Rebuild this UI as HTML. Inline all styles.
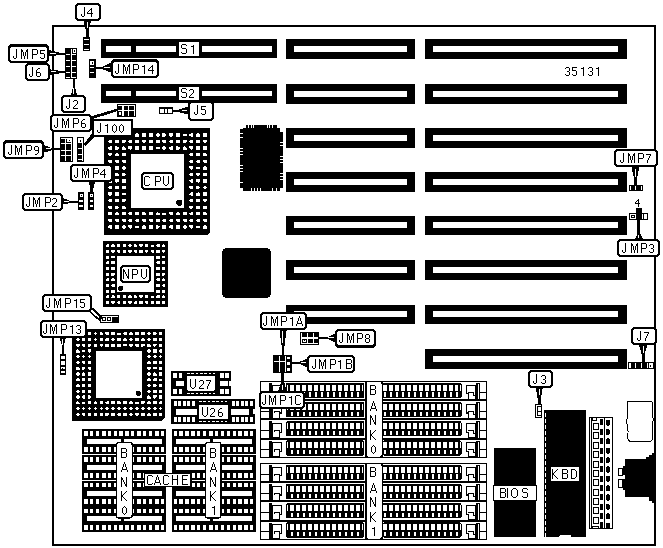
<!DOCTYPE html>
<html><head><meta charset="utf-8"><title>Motherboard diagram</title>
<style>
html,body{margin:0;padding:0;background:#fff;font-family:"Liberation Sans",sans-serif;}
svg{display:block;}
</style></head>
<body>
<svg width="663" height="548" viewBox="0 0 663 548" shape-rendering="crispEdges">
<defs>
<path id="g74" d="M3 0h1v1h-1zM3 1h1v1h-1zM3 2h1v1h-1zM3 3h1v1h-1zM3 4h1v1h-1zM3 5h1v1h-1zM3 6h1v1h-1zM0 7h1v1h-1zM3 7h1v1h-1zM0 8h1v1h-1zM3 8h1v1h-1zM1 9h2v1h-2z"/>
<path id="g77" d="M0 0h1v1h-1zM6 0h1v1h-1zM0 1h2v1h-2zM5 1h2v1h-2zM0 2h2v1h-2zM5 2h2v1h-2zM0 3h1v1h-1zM2 3h1v1h-1zM4 3h1v1h-1zM6 3h1v1h-1zM0 4h1v1h-1zM2 4h1v1h-1zM4 4h1v1h-1zM6 4h1v1h-1zM0 5h1v1h-1zM2 5h1v1h-1zM4 5h1v1h-1zM6 5h1v1h-1zM0 6h1v1h-1zM2 6h1v1h-1zM4 6h1v1h-1zM6 6h1v1h-1zM0 7h1v1h-1zM3 7h1v1h-1zM6 7h1v1h-1zM0 8h1v1h-1zM3 8h1v1h-1zM6 8h1v1h-1zM0 9h1v1h-1zM3 9h1v1h-1zM6 9h1v1h-1z"/>
<path id="g80" d="M0 0h5v1h-5zM0 1h1v1h-1zM5 1h1v1h-1zM0 2h1v1h-1zM5 2h1v1h-1zM0 3h1v1h-1zM5 3h1v1h-1zM0 4h1v1h-1zM5 4h1v1h-1zM0 5h5v1h-5zM0 6h1v1h-1zM0 7h1v1h-1zM0 8h1v1h-1zM0 9h1v1h-1z"/>
<path id="g65" d="M3 0h1v1h-1zM3 1h1v1h-1zM2 2h1v1h-1zM4 2h1v1h-1zM2 3h1v1h-1zM4 3h1v1h-1zM2 4h1v1h-1zM4 4h1v1h-1zM1 5h1v1h-1zM5 5h1v1h-1zM1 6h1v1h-1zM5 6h1v1h-1zM1 7h5v1h-5zM0 8h1v1h-1zM6 8h1v1h-1zM0 9h1v1h-1zM6 9h1v1h-1z"/>
<path id="g66" d="M0 0h5v1h-5zM0 1h1v1h-1zM5 1h1v1h-1zM0 2h1v1h-1zM5 2h1v1h-1zM0 3h1v1h-1zM5 3h1v1h-1zM0 4h5v1h-5zM0 5h1v1h-1zM5 5h1v1h-1zM0 6h1v1h-1zM5 6h1v1h-1zM0 7h1v1h-1zM5 7h1v1h-1zM0 8h1v1h-1zM5 8h1v1h-1zM0 9h5v1h-5z"/>
<path id="g67" d="M1 0h4v1h-4zM0 1h1v1h-1zM5 1h1v1h-1zM0 2h1v1h-1zM0 3h1v1h-1zM0 4h1v1h-1zM0 5h1v1h-1zM0 6h1v1h-1zM0 7h1v1h-1zM0 8h1v1h-1zM5 8h1v1h-1zM1 9h4v1h-4z"/>
<path id="g68" d="M0 0h4v1h-4zM0 1h1v1h-1zM4 1h1v1h-1zM0 2h1v1h-1zM5 2h1v1h-1zM0 3h1v1h-1zM5 3h1v1h-1zM0 4h1v1h-1zM5 4h1v1h-1zM0 5h1v1h-1zM5 5h1v1h-1zM0 6h1v1h-1zM5 6h1v1h-1zM0 7h1v1h-1zM5 7h1v1h-1zM0 8h1v1h-1zM4 8h1v1h-1zM0 9h4v1h-4z"/>
<path id="g69" d="M0 0h6v1h-6zM0 1h1v1h-1zM0 2h1v1h-1zM0 3h1v1h-1zM0 4h5v1h-5zM0 5h1v1h-1zM0 6h1v1h-1zM0 7h1v1h-1zM0 8h1v1h-1zM0 9h6v1h-6z"/>
<path id="g72" d="M0 0h1v1h-1zM5 0h1v1h-1zM0 1h1v1h-1zM5 1h1v1h-1zM0 2h1v1h-1zM5 2h1v1h-1zM0 3h1v1h-1zM5 3h1v1h-1zM0 4h6v1h-6zM0 5h1v1h-1zM5 5h1v1h-1zM0 6h1v1h-1zM5 6h1v1h-1zM0 7h1v1h-1zM5 7h1v1h-1zM0 8h1v1h-1zM5 8h1v1h-1zM0 9h1v1h-1zM5 9h1v1h-1z"/>
<path id="g73" d="M0 0h1v1h-1zM0 1h1v1h-1zM0 2h1v1h-1zM0 3h1v1h-1zM0 4h1v1h-1zM0 5h1v1h-1zM0 6h1v1h-1zM0 7h1v1h-1zM0 8h1v1h-1zM0 9h1v1h-1z"/>
<path id="g75" d="M0 0h1v1h-1zM5 0h1v1h-1zM0 1h1v1h-1zM4 1h1v1h-1zM0 2h1v1h-1zM3 2h1v1h-1zM0 3h1v1h-1zM2 3h1v1h-1zM0 4h2v1h-2zM0 5h2v1h-2zM0 6h1v1h-1zM2 6h1v1h-1zM0 7h1v1h-1zM3 7h1v1h-1zM0 8h1v1h-1zM4 8h1v1h-1zM0 9h1v1h-1zM5 9h1v1h-1z"/>
<path id="g78" d="M0 0h1v1h-1zM5 0h1v1h-1zM0 1h2v1h-2zM5 1h1v1h-1zM0 2h2v1h-2zM5 2h1v1h-1zM0 3h1v1h-1zM2 3h1v1h-1zM5 3h1v1h-1zM0 4h1v1h-1zM2 4h1v1h-1zM5 4h1v1h-1zM0 5h1v1h-1zM3 5h1v1h-1zM5 5h1v1h-1zM0 6h1v1h-1zM3 6h1v1h-1zM5 6h1v1h-1zM0 7h1v1h-1zM4 7h2v1h-2zM0 8h1v1h-1zM4 8h2v1h-2zM0 9h1v1h-1zM5 9h1v1h-1z"/>
<path id="g79" d="M2 0h3v1h-3zM1 1h1v1h-1zM5 1h1v1h-1zM0 2h1v1h-1zM6 2h1v1h-1zM0 3h1v1h-1zM6 3h1v1h-1zM0 4h1v1h-1zM6 4h1v1h-1zM0 5h1v1h-1zM6 5h1v1h-1zM0 6h1v1h-1zM6 6h1v1h-1zM0 7h1v1h-1zM6 7h1v1h-1zM1 8h1v1h-1zM5 8h1v1h-1zM2 9h3v1h-3z"/>
<path id="g83" d="M1 0h4v1h-4zM0 1h1v1h-1zM5 1h1v1h-1zM0 2h1v1h-1zM0 3h1v1h-1zM1 4h4v1h-4zM5 5h1v1h-1zM5 6h1v1h-1zM5 7h1v1h-1zM0 8h1v1h-1zM5 8h1v1h-1zM1 9h4v1h-4z"/>
<path id="g85" d="M0 0h1v1h-1zM5 0h1v1h-1zM0 1h1v1h-1zM5 1h1v1h-1zM0 2h1v1h-1zM5 2h1v1h-1zM0 3h1v1h-1zM5 3h1v1h-1zM0 4h1v1h-1zM5 4h1v1h-1zM0 5h1v1h-1zM5 5h1v1h-1zM0 6h1v1h-1zM5 6h1v1h-1zM0 7h1v1h-1zM5 7h1v1h-1zM1 8h1v1h-1zM4 8h1v1h-1zM2 9h2v1h-2z"/>
<path id="g48" d="M2 1h1v1h-1zM1 2h1v1h-1zM3 2h1v1h-1zM0 3h1v1h-1zM4 3h1v1h-1zM0 4h1v1h-1zM4 4h1v1h-1zM0 5h1v1h-1zM4 5h1v1h-1zM0 6h1v1h-1zM4 6h1v1h-1zM0 7h1v1h-1zM4 7h1v1h-1zM1 8h1v1h-1zM3 8h1v1h-1zM2 9h1v1h-1z"/>
<path id="g49" d="M2 1h1v1h-1zM0 2h3v1h-3zM2 3h1v1h-1zM2 4h1v1h-1zM2 5h1v1h-1zM2 6h1v1h-1zM2 7h1v1h-1zM2 8h1v1h-1zM2 9h1v1h-1z"/>
<path id="g50" d="M1 1h3v1h-3zM0 2h1v1h-1zM4 2h1v1h-1zM4 3h1v1h-1zM4 4h1v1h-1zM3 5h1v1h-1zM2 6h1v1h-1zM1 7h1v1h-1zM0 8h1v1h-1zM0 9h5v1h-5z"/>
<path id="g51" d="M1 1h3v1h-3zM0 2h1v1h-1zM4 2h1v1h-1zM4 3h1v1h-1zM4 4h1v1h-1zM2 5h2v1h-2zM4 6h1v1h-1zM4 7h1v1h-1zM0 8h1v1h-1zM4 8h1v1h-1zM1 9h3v1h-3z"/>
<path id="g52" d="M4 1h1v1h-1zM3 2h2v1h-2zM2 3h1v1h-1zM4 3h1v1h-1zM1 4h1v1h-1zM4 4h1v1h-1zM0 5h1v1h-1zM4 5h1v1h-1zM0 6h6v1h-6zM4 7h1v1h-1zM4 8h1v1h-1zM4 9h1v1h-1z"/>
<path id="g53" d="M0 1h5v1h-5zM0 2h1v1h-1zM0 3h1v1h-1zM0 4h4v1h-4zM4 5h1v1h-1zM4 6h1v1h-1zM4 7h1v1h-1zM0 8h1v1h-1zM4 8h1v1h-1zM1 9h3v1h-3z"/>
<path id="g54" d="M2 1h2v1h-2zM1 2h1v1h-1zM0 3h1v1h-1zM0 4h1v1h-1zM0 5h4v1h-4zM0 6h1v1h-1zM4 6h1v1h-1zM0 7h1v1h-1zM4 7h1v1h-1zM0 8h1v1h-1zM4 8h1v1h-1zM1 9h3v1h-3z"/>
<path id="g55" d="M0 1h5v1h-5zM4 2h1v1h-1zM3 3h1v1h-1zM3 4h1v1h-1zM2 5h1v1h-1zM2 6h1v1h-1zM1 7h1v1h-1zM1 8h1v1h-1zM1 9h1v1h-1z"/>
<path id="g56" d="M1 1h3v1h-3zM0 2h1v1h-1zM4 2h1v1h-1zM0 3h1v1h-1zM4 3h1v1h-1zM0 4h1v1h-1zM4 4h1v1h-1zM1 5h3v1h-3zM0 6h1v1h-1zM4 6h1v1h-1zM0 7h1v1h-1zM4 7h1v1h-1zM0 8h1v1h-1zM4 8h1v1h-1zM1 9h3v1h-3z"/>
<path id="g57" d="M1 1h3v1h-3zM0 2h1v1h-1zM4 2h1v1h-1zM0 3h1v1h-1zM4 3h1v1h-1zM0 4h1v1h-1zM4 4h1v1h-1zM1 5h4v1h-4zM4 6h1v1h-1zM4 7h1v1h-1zM3 8h1v1h-1zM1 9h2v1h-2z"/>
<path id="gs4" d="M3 0h1v1h-1zM2 1h2v1h-2zM1 2h1v1h-1zM3 2h1v1h-1zM0 3h1v1h-1zM3 3h1v1h-1zM0 4h5v1h-5zM3 5h1v1h-1zM3 6h1v1h-1zM3 7h1v1h-1z"/>
</defs>
<rect x="0" y="0" width="663" height="548" fill="#fff"/>
<rect x="52" y="25" width="604" height="2" fill="#000" />
<rect x="52" y="25" width="2" height="521" fill="#000" />
<rect x="654" y="25" width="2" height="521" fill="#000" />
<rect x="52" y="544" width="604" height="2" fill="#000" />
<polygon points="189.5,106.5 188.3,106.5 177.73,110 173.2,110 173.2,112 177.73,112 188.3,114.6 189.5,114.6" fill="#000" />
<rect x="188" y="101" width="26" height="20" rx="3.8" ry="3.8" fill="#000"/>
<rect x="190" y="103" width="22" height="16" rx="2.2" ry="2.2" fill="#fff"/>
<use href="#g74" x="194" y="105"/>
<use href="#g53" x="201" y="105"/>
<polygon points="535.8,386.8 535.8,388 537.8,399.48 537.8,404.4 540.6,404.4 540.6,399.48 542.8,388 542.8,386.8" fill="#000" />
<rect x="528" y="370" width="25" height="18" rx="3.8" ry="3.8" fill="#000"/>
<rect x="530" y="372" width="21" height="14" rx="2.2" ry="2.2" fill="#fff"/>
<use href="#g74" x="533" y="374"/>
<use href="#g51" x="541" y="374"/>
<rect x="181.958" y="110" width="5.342" height="1" fill="#fff" />
<rect x="539" y="389" width="1" height="5.888" fill="#fff" />
<rect x="101" y="39" width="176" height="19" fill="#000" />
<rect x="106" y="46" width="25" height="6" fill="#fff" />
<rect x="136" y="46" width="40" height="6" fill="#fff" />
<rect x="202" y="46" width="70" height="6" fill="#fff" />
<rect x="179" y="42" width="20" height="14" fill="#fff" />
<rect x="286" y="39" width="129" height="20" fill="#000" />
<rect x="294" y="46" width="113" height="6" fill="#fff" />
<rect x="425" y="39" width="202" height="20" fill="#000" />
<rect x="433" y="46" width="185" height="6" fill="#fff" />
<rect x="101" y="84" width="176" height="19" fill="#000" />
<rect x="106" y="91" width="25" height="5" fill="#fff" />
<rect x="136" y="91" width="40" height="5" fill="#fff" />
<rect x="202" y="91" width="70" height="5" fill="#fff" />
<rect x="179" y="87" width="20" height="13" fill="#fff" />
<rect x="286" y="84" width="129" height="20" fill="#000" />
<rect x="294" y="91" width="113" height="6" fill="#fff" />
<rect x="425" y="84" width="202" height="20" fill="#000" />
<rect x="433" y="91" width="185" height="6" fill="#fff" />
<rect x="286" y="128" width="129" height="20" fill="#000" />
<rect x="294" y="135" width="113" height="6" fill="#fff" />
<rect x="425" y="128" width="202" height="20" fill="#000" />
<rect x="433" y="135" width="185" height="6" fill="#fff" />
<rect x="286" y="172" width="129" height="20" fill="#000" />
<rect x="294" y="179" width="113" height="6" fill="#fff" />
<rect x="425" y="172" width="202" height="20" fill="#000" />
<rect x="433" y="179" width="185" height="6" fill="#fff" />
<rect x="286" y="216" width="129" height="19" fill="#000" />
<rect x="294" y="222" width="113" height="6" fill="#fff" />
<rect x="425" y="216" width="202" height="19" fill="#000" />
<rect x="433" y="222" width="185" height="6" fill="#fff" />
<rect x="286" y="260" width="129" height="20" fill="#000" />
<rect x="294" y="267" width="113" height="6" fill="#fff" />
<rect x="425" y="260" width="202" height="20" fill="#000" />
<rect x="433" y="267" width="185" height="6" fill="#fff" />
<rect x="286" y="305" width="129" height="19" fill="#000" />
<rect x="294" y="311" width="113" height="6" fill="#fff" />
<rect x="425" y="305" width="202" height="19" fill="#000" />
<rect x="433" y="311" width="185" height="6" fill="#fff" />
<rect x="425" y="349" width="202" height="20" fill="#000" />
<rect x="433" y="356" width="185" height="6" fill="#fff" />
<use href="#g83" x="181" y="44"/>
<use href="#g49" x="191" y="44"/>
<use href="#g83" x="181" y="88"/>
<use href="#g50" x="189" y="88"/>
<use href="#g51" x="565" y="66"/>
<use href="#g53" x="572" y="66"/>
<use href="#g49" x="581" y="66"/>
<use href="#g51" x="588" y="66"/>
<use href="#g49" x="596" y="66"/>
<polygon points="104,128 210,128 210,232 207,235 104,235" fill="#000" />
<polygon points="108,133.3 112,133.3 112,135.3 110.5,136.7 109.5,136.7 108,135.3" fill="#fff" />
<polygon points="114.79,133.3 118.79,133.3 118.79,136.7 114.79,136.7" fill="#fff" />
<polygon points="121.57,133.9 125.57,133.9 125.57,136.3 121.57,136.3" fill="#fff" />
<polygon points="132.36,133.3 132.36,136.7 130.06,136.7 128.36,135.5 128.36,134.5 130.06,133.3" fill="#fff" />
<polygon points="136.64,133.3 137.64,133.3 139.14,134.7 139.14,136.7 135.14,136.7 135.14,134.7" fill="#fff" />
<polygon points="141.93,133.3 145.93,133.3 145.93,136.7 141.93,136.7" fill="#fff" />
<polygon points="148.71,133.3 152.71,133.3 152.71,136.7 148.71,136.7" fill="#fff" />
<polygon points="156.5,133.3 158.5,133.3 158.5,134.1 159.5,134.1 159.5,135.9 158.5,135.9 158.5,136.7 156.5,136.7 156.5,135.9 155.5,135.9 155.5,134.1 156.5,134.1" fill="#fff" />
<polygon points="162.29,133.3 164.59,133.3 166.29,134.5 166.29,135.5 164.59,136.7 162.29,136.7" fill="#fff" />
<polygon points="169.07,133.3 173.07,133.3 173.07,135.3 171.57,136.7 170.57,136.7 169.07,135.3" fill="#fff" />
<polygon points="175.86,133.3 179.86,133.3 179.86,136.7 175.86,136.7" fill="#fff" />
<polygon points="182.64,133.9 186.64,133.9 186.64,136.3 182.64,136.3" fill="#fff" />
<polygon points="193.43,133.3 193.43,136.7 191.13,136.7 189.43,135.5 189.43,134.5 191.13,133.3" fill="#fff" />
<polygon points="197.71,133.3 198.71,133.3 200.21,134.7 200.21,136.7 196.21,136.7 196.21,134.7" fill="#fff" />
<polygon points="203,133.3 207,133.3 207,136.7 203,136.7" fill="#fff" />
<polygon points="112,139.86 112,143.26 109.7,143.26 108,142.06 108,141.06 109.7,139.86" fill="#fff" />
<polygon points="114.79,139.86 118.79,139.86 118.79,143.26 114.79,143.26" fill="#fff" />
<polygon points="121.57,139.86 125.57,139.86 125.57,141.86 124.07,143.26 123.07,143.26 121.57,141.86" fill="#fff" />
<polygon points="132.36,139.86 132.36,143.26 130.06,143.26 128.36,142.06 128.36,141.06 130.06,139.86" fill="#fff" />
<polygon points="135.14,139.86 139.14,139.86 139.14,143.26 135.14,143.26" fill="#fff" />
<polygon points="141.93,139.86 145.93,139.86 145.93,141.86 144.43,143.26 143.43,143.26 141.93,141.86" fill="#fff" />
<polygon points="152.71,139.86 152.71,143.26 150.41,143.26 148.71,142.06 148.71,141.06 150.41,139.86" fill="#fff" />
<polygon points="155.5,139.86 159.5,139.86 159.5,143.26 155.5,143.26" fill="#fff" />
<polygon points="162.29,139.86 166.29,139.86 166.29,141.86 164.79,143.26 163.79,143.26 162.29,141.86" fill="#fff" />
<polygon points="173.07,139.86 173.07,143.26 170.77,143.26 169.07,142.06 169.07,141.06 170.77,139.86" fill="#fff" />
<polygon points="175.86,139.86 179.86,139.86 179.86,143.26 175.86,143.26" fill="#fff" />
<polygon points="182.64,139.86 186.64,139.86 186.64,141.86 185.14,143.26 184.14,143.26 182.64,141.86" fill="#fff" />
<polygon points="193.43,139.86 193.43,143.26 191.13,143.26 189.43,142.06 189.43,141.06 191.13,139.86" fill="#fff" />
<polygon points="196.21,139.86 200.21,139.86 200.21,143.26 196.21,143.26" fill="#fff" />
<polygon points="203,139.86 207,139.86 207,141.86 205.5,143.26 204.5,143.26 203,141.86" fill="#fff" />
<polygon points="112,146.43 112,149.83 109.7,149.83 108,148.63 108,147.63 109.7,146.43" fill="#fff" />
<polygon points="114.79,146.43 117.09,146.43 118.79,147.63 118.79,148.63 117.09,149.83 114.79,149.83" fill="#fff" />
<polygon points="123.07,146.43 124.07,146.43 125.57,147.83 125.57,149.83 121.57,149.83 121.57,147.83" fill="#fff" />
<polygon points="128.36,146.43 132.36,146.43 132.36,148.43 130.86,149.83 129.86,149.83 128.36,148.43" fill="#fff" />
<polygon points="135.14,146.43 139.14,146.43 139.14,149.83 135.14,149.83" fill="#fff" />
<polygon points="141.93,146.43 145.93,146.43 145.93,149.83 141.93,149.83" fill="#fff" />
<polygon points="148.71,146.43 152.71,146.43 152.71,149.83 148.71,149.83" fill="#fff" />
<polygon points="155.5,147.03 159.5,147.03 159.5,149.43 155.5,149.43" fill="#fff" />
<polygon points="163.29,146.43 165.29,146.43 165.29,147.23 166.29,147.23 166.29,149.03 165.29,149.03 165.29,149.83 163.29,149.83 163.29,149.03 162.29,149.03 162.29,147.23 163.29,147.23" fill="#fff" />
<polygon points="173.07,146.43 173.07,149.83 170.77,149.83 169.07,148.63 169.07,147.63 170.77,146.43" fill="#fff" />
<polygon points="175.86,146.43 178.16,146.43 179.86,147.63 179.86,148.63 178.16,149.83 175.86,149.83" fill="#fff" />
<polygon points="184.14,146.43 185.14,146.43 186.64,147.83 186.64,149.83 182.64,149.83 182.64,147.83" fill="#fff" />
<polygon points="189.43,146.43 193.43,146.43 193.43,148.43 191.93,149.83 190.93,149.83 189.43,148.43" fill="#fff" />
<polygon points="196.21,146.43 200.21,146.43 200.21,149.83 196.21,149.83" fill="#fff" />
<polygon points="203,146.43 207,146.43 207,149.83 203,149.83" fill="#fff" />
<polygon points="108,152.99 112,152.99 112,154.99 110.5,156.39 109.5,156.39 108,154.99" fill="#fff" />
<polygon points="115.79,152.99 117.79,152.99 117.79,153.79 118.79,153.79 118.79,155.59 117.79,155.59 117.79,156.39 115.79,156.39 115.79,155.59 114.79,155.59 114.79,153.79 115.79,153.79" fill="#fff" />
<polygon points="121.57,152.99 125.57,152.99 125.57,156.39 121.57,156.39" fill="#fff" />
<polygon points="193.43,152.99 193.43,156.39 191.13,156.39 189.43,155.19 189.43,154.19 191.13,152.99" fill="#fff" />
<polygon points="196.21,152.99 200.21,152.99 200.21,156.39 196.21,156.39" fill="#fff" />
<polygon points="203,152.99 205.3,152.99 207,154.19 207,155.19 205.3,156.39 203,156.39" fill="#fff" />
<polygon points="112,159.56 112,162.96 109.7,162.96 108,161.76 108,160.76 109.7,159.56" fill="#fff" />
<polygon points="118.79,159.56 118.79,162.96 116.49,162.96 114.79,161.76 114.79,160.76 116.49,159.56" fill="#fff" />
<polygon points="125.57,159.56 125.57,162.96 123.27,162.96 121.57,161.76 121.57,160.76 123.27,159.56" fill="#fff" />
<polygon points="193.43,159.56 193.43,162.96 191.13,162.96 189.43,161.76 189.43,160.76 191.13,159.56" fill="#fff" />
<polygon points="200.21,159.56 200.21,162.96 197.91,162.96 196.21,161.76 196.21,160.76 197.91,159.56" fill="#fff" />
<polygon points="207,159.56 207,162.96 204.7,162.96 203,161.76 203,160.76 204.7,159.56" fill="#fff" />
<polygon points="112,166.12 112,169.52 109.7,169.52 108,168.32 108,167.32 109.7,166.12" fill="#fff" />
<polygon points="114.79,166.12 118.79,166.12 118.79,169.52 114.79,169.52" fill="#fff" />
<polygon points="122.57,166.12 124.57,166.12 124.57,166.92 125.57,166.92 125.57,168.72 124.57,168.72 124.57,169.52 122.57,169.52 122.57,168.72 121.57,168.72 121.57,166.92 122.57,166.92" fill="#fff" />
<polygon points="189.43,166.12 193.43,166.12 193.43,168.12 191.93,169.52 190.93,169.52 189.43,168.12" fill="#fff" />
<polygon points="196.21,166.72 200.21,166.72 200.21,169.12 196.21,169.12" fill="#fff" />
<polygon points="204.5,166.12 205.5,166.12 207,167.52 207,169.52 203,169.52 203,167.52" fill="#fff" />
<polygon points="108,172.69 112,172.69 112,174.69 110.5,176.09 109.5,176.09 108,174.69" fill="#fff" />
<polygon points="116.29,172.69 117.29,172.69 118.79,174.09 118.79,176.09 114.79,176.09 114.79,174.09" fill="#fff" />
<polygon points="121.57,172.69 123.87,172.69 125.57,173.89 125.57,174.89 123.87,176.09 121.57,176.09" fill="#fff" />
<polygon points="193.43,172.69 193.43,176.09 191.13,176.09 189.43,174.89 189.43,173.89 191.13,172.69" fill="#fff" />
<polygon points="197.21,172.69 199.21,172.69 199.21,173.49 200.21,173.49 200.21,175.29 199.21,175.29 199.21,176.09 197.21,176.09 197.21,175.29 196.21,175.29 196.21,173.49 197.21,173.49" fill="#fff" />
<polygon points="203,173.29 207,173.29 207,175.69 203,175.69" fill="#fff" />
<polygon points="112,179.25 112,182.65 109.7,182.65 108,181.45 108,180.45 109.7,179.25" fill="#fff" />
<polygon points="114.79,179.25 118.79,179.25 118.79,181.25 117.29,182.65 116.29,182.65 114.79,181.25" fill="#fff" />
<polygon points="121.57,179.25 125.57,179.25 125.57,182.65 121.57,182.65" fill="#fff" />
<polygon points="193.43,179.25 193.43,182.65 191.13,182.65 189.43,181.45 189.43,180.45 191.13,179.25" fill="#fff" />
<polygon points="196.21,179.25 200.21,179.25 200.21,181.25 198.71,182.65 197.71,182.65 196.21,181.25" fill="#fff" />
<polygon points="203,179.25 207,179.25 207,182.65 203,182.65" fill="#fff" />
<polygon points="112,185.81 112,189.21 109.7,189.21 108,188.01 108,187.01 109.7,185.81" fill="#fff" />
<polygon points="114.79,186.41 118.79,186.41 118.79,188.81 114.79,188.81" fill="#fff" />
<polygon points="121.57,185.81 125.57,185.81 125.57,189.21 121.57,189.21" fill="#fff" />
<polygon points="189.43,185.81 193.43,185.81 193.43,187.81 191.93,189.21 190.93,189.21 189.43,187.81" fill="#fff" />
<polygon points="196.21,185.81 198.51,185.81 200.21,187.01 200.21,188.01 198.51,189.21 196.21,189.21" fill="#fff" />
<polygon points="204,185.81 206,185.81 206,186.61 207,186.61 207,188.41 206,188.41 206,189.21 204,189.21 204,188.41 203,188.41 203,186.61 204,186.61" fill="#fff" />
<polygon points="108,192.38 112,192.38 112,194.38 110.5,195.78 109.5,195.78 108,194.38" fill="#fff" />
<polygon points="114.79,192.38 118.79,192.38 118.79,195.78 114.79,195.78" fill="#fff" />
<polygon points="121.57,192.98 125.57,192.98 125.57,195.38 121.57,195.38" fill="#fff" />
<polygon points="193.43,192.38 193.43,195.78 191.13,195.78 189.43,194.58 189.43,193.58 191.13,192.38" fill="#fff" />
<polygon points="197.71,192.38 198.71,192.38 200.21,193.78 200.21,195.78 196.21,195.78 196.21,193.78" fill="#fff" />
<polygon points="203,192.38 207,192.38 207,195.78 203,195.78" fill="#fff" />
<polygon points="112,198.94 112,202.34 109.7,202.34 108,201.14 108,200.14 109.7,198.94" fill="#fff" />
<polygon points="114.79,198.94 118.79,198.94 118.79,202.34 114.79,202.34" fill="#fff" />
<polygon points="121.57,198.94 125.57,198.94 125.57,200.94 124.07,202.34 123.07,202.34 121.57,200.94" fill="#fff" />
<polygon points="193.43,198.94 193.43,202.34 191.13,202.34 189.43,201.14 189.43,200.14 191.13,198.94" fill="#fff" />
<polygon points="196.21,198.94 200.21,198.94 200.21,202.34 196.21,202.34" fill="#fff" />
<polygon points="203,198.94 207,198.94 207,200.94 205.5,202.34 204.5,202.34 203,200.94" fill="#fff" />
<polygon points="112,205.51 112,208.91 109.7,208.91 108,207.71 108,206.71 109.7,205.51" fill="#fff" />
<polygon points="114.79,205.51 117.09,205.51 118.79,206.71 118.79,207.71 117.09,208.91 114.79,208.91" fill="#fff" />
<polygon points="123.07,205.51 124.07,205.51 125.57,206.91 125.57,208.91 121.57,208.91 121.57,206.91" fill="#fff" />
<polygon points="189.43,205.51 193.43,205.51 193.43,207.51 191.93,208.91 190.93,208.91 189.43,207.51" fill="#fff" />
<polygon points="196.21,205.51 200.21,205.51 200.21,208.91 196.21,208.91" fill="#fff" />
<polygon points="203,205.51 207,205.51 207,208.91 203,208.91" fill="#fff" />
<polygon points="108,212.07 112,212.07 112,214.07 110.5,215.47 109.5,215.47 108,214.07" fill="#fff" />
<polygon points="115.79,212.07 117.79,212.07 117.79,212.87 118.79,212.87 118.79,214.67 117.79,214.67 117.79,215.47 115.79,215.47 115.79,214.67 114.79,214.67 114.79,212.87 115.79,212.87" fill="#fff" />
<polygon points="121.57,212.07 125.57,212.07 125.57,215.47 121.57,215.47" fill="#fff" />
<polygon points="132.36,212.07 132.36,215.47 130.06,215.47 128.36,214.27 128.36,213.27 130.06,212.07" fill="#fff" />
<polygon points="135.14,212.07 139.14,212.07 139.14,215.47 135.14,215.47" fill="#fff" />
<polygon points="141.93,212.07 144.23,212.07 145.93,213.27 145.93,214.27 144.23,215.47 141.93,215.47" fill="#fff" />
<polygon points="148.71,212.07 152.71,212.07 152.71,215.47 148.71,215.47" fill="#fff" />
<polygon points="157,212.07 158,212.07 159.5,213.47 159.5,215.47 155.5,215.47 155.5,213.47" fill="#fff" />
<polygon points="162.29,212.67 166.29,212.67 166.29,215.07 162.29,215.07" fill="#fff" />
<polygon points="169.07,212.07 173.07,212.07 173.07,214.07 171.57,215.47 170.57,215.47 169.07,214.07" fill="#fff" />
<polygon points="176.86,212.07 178.86,212.07 178.86,212.87 179.86,212.87 179.86,214.67 178.86,214.67 178.86,215.47 176.86,215.47 176.86,214.67 175.86,214.67 175.86,212.87 176.86,212.87" fill="#fff" />
<polygon points="182.64,212.07 186.64,212.07 186.64,215.47 182.64,215.47" fill="#fff" />
<polygon points="193.43,212.07 193.43,215.47 191.13,215.47 189.43,214.27 189.43,213.27 191.13,212.07" fill="#fff" />
<polygon points="196.21,212.07 200.21,212.07 200.21,215.47 196.21,215.47" fill="#fff" />
<polygon points="203,212.07 205.3,212.07 207,213.27 207,214.27 205.3,215.47 203,215.47" fill="#fff" />
<polygon points="112,218.64 112,222.04 109.7,222.04 108,220.84 108,219.84 109.7,218.64" fill="#fff" />
<polygon points="118.79,218.64 118.79,222.04 116.49,222.04 114.79,220.84 114.79,219.84 116.49,218.64" fill="#fff" />
<polygon points="125.57,218.64 125.57,222.04 123.27,222.04 121.57,220.84 121.57,219.84 123.27,218.64" fill="#fff" />
<polygon points="132.36,218.64 132.36,222.04 130.06,222.04 128.36,220.84 128.36,219.84 130.06,218.64" fill="#fff" />
<polygon points="139.14,218.64 139.14,222.04 136.84,222.04 135.14,220.84 135.14,219.84 136.84,218.64" fill="#fff" />
<polygon points="145.93,218.64 145.93,222.04 143.63,222.04 141.93,220.84 141.93,219.84 143.63,218.64" fill="#fff" />
<polygon points="152.71,218.64 152.71,222.04 150.41,222.04 148.71,220.84 148.71,219.84 150.41,218.64" fill="#fff" />
<polygon points="159.5,218.64 159.5,222.04 157.2,222.04 155.5,220.84 155.5,219.84 157.2,218.64" fill="#fff" />
<polygon points="166.29,218.64 166.29,222.04 163.99,222.04 162.29,220.84 162.29,219.84 163.99,218.64" fill="#fff" />
<polygon points="173.07,218.64 173.07,222.04 170.77,222.04 169.07,220.84 169.07,219.84 170.77,218.64" fill="#fff" />
<polygon points="179.86,218.64 179.86,222.04 177.56,222.04 175.86,220.84 175.86,219.84 177.56,218.64" fill="#fff" />
<polygon points="186.64,218.64 186.64,222.04 184.34,222.04 182.64,220.84 182.64,219.84 184.34,218.64" fill="#fff" />
<polygon points="193.43,218.64 193.43,222.04 191.13,222.04 189.43,220.84 189.43,219.84 191.13,218.64" fill="#fff" />
<polygon points="200.21,218.64 200.21,222.04 197.91,222.04 196.21,220.84 196.21,219.84 197.91,218.64" fill="#fff" />
<polygon points="207,218.64 207,222.04 204.7,222.04 203,220.84 203,219.84 204.7,218.64" fill="#fff" />
<polygon points="112,225.2 112,228.6 109.7,228.6 108,227.4 108,226.4 109.7,225.2" fill="#fff" />
<polygon points="114.79,225.2 118.79,225.2 118.79,228.6 114.79,228.6" fill="#fff" />
<polygon points="122.57,225.2 124.57,225.2 124.57,226 125.57,226 125.57,227.8 124.57,227.8 124.57,228.6 122.57,228.6 122.57,227.8 121.57,227.8 121.57,226 122.57,226" fill="#fff" />
<polygon points="128.36,225.2 132.36,225.2 132.36,227.2 130.86,228.6 129.86,228.6 128.36,227.2" fill="#fff" />
<polygon points="135.14,225.8 139.14,225.8 139.14,228.2 135.14,228.2" fill="#fff" />
<polygon points="143.43,225.2 144.43,225.2 145.93,226.6 145.93,228.6 141.93,228.6 141.93,226.6" fill="#fff" />
<polygon points="148.71,225.2 152.71,225.2 152.71,228.6 148.71,228.6" fill="#fff" />
<polygon points="155.5,225.2 157.8,225.2 159.5,226.4 159.5,227.4 157.8,228.6 155.5,228.6" fill="#fff" />
<polygon points="162.29,225.2 166.29,225.2 166.29,228.6 162.29,228.6" fill="#fff" />
<polygon points="173.07,225.2 173.07,228.6 170.77,228.6 169.07,227.4 169.07,226.4 170.77,225.2" fill="#fff" />
<polygon points="175.86,225.2 179.86,225.2 179.86,228.6 175.86,228.6" fill="#fff" />
<polygon points="183.64,225.2 185.64,225.2 185.64,226 186.64,226 186.64,227.8 185.64,227.8 185.64,228.6 183.64,228.6 183.64,227.8 182.64,227.8 182.64,226 183.64,226" fill="#fff" />
<polygon points="189.43,225.2 193.43,225.2 193.43,227.2 191.93,228.6 190.93,228.6 189.43,227.2" fill="#fff" />
<polygon points="196.21,225.8 200.21,225.8 200.21,228.2 196.21,228.2" fill="#fff" />
<polygon points="204.5,225.2 205.5,225.2 207,226.6 207,228.6 203,228.6 203,226.6" fill="#fff" />
<rect x="131" y="154" width="53" height="54" fill="#fff" />
<polygon points="177.8,199.6 180.8,199.6 182.3,201.1 182.3,204.1 180.8,205.6 177.8,205.6 176.3,204.1 176.3,201.1" fill="#000" />
<rect x="103" y="241" width="65" height="65.5" fill="#000" />
<polygon points="109.15,244.1 109.15,247.1 107.2,247.1 105.85,246.1 105.85,245.1 107.2,244.1" fill="#fff" />
<polygon points="112.6,244.1 113.6,244.1 114.75,245.3 114.75,247.1 111.45,247.1 111.45,245.3" fill="#fff" />
<polygon points="117.05,244.1 120.35,244.1 120.35,247.1 117.05,247.1" fill="#fff" />
<polygon points="122.65,244.1 125.95,244.1 125.95,247.1 122.65,247.1" fill="#fff" />
<polygon points="129.25,244.1 130.55,244.1 130.55,244.9 131.55,244.9 131.55,246.3 130.55,246.3 130.55,247.1 129.25,247.1 129.25,246.3 128.25,246.3 128.25,244.9 129.25,244.9" fill="#fff" />
<polygon points="133.85,244.1 135.8,244.1 137.15,245.1 137.15,246.1 135.8,247.1 133.85,247.1" fill="#fff" />
<polygon points="139.45,244.1 142.75,244.1 142.75,245.9 141.6,247.1 140.6,247.1 139.45,245.9" fill="#fff" />
<polygon points="145.05,244.1 148.35,244.1 148.35,247.1 145.05,247.1" fill="#fff" />
<polygon points="150.65,244.7 153.95,244.7 153.95,246.7 150.65,246.7" fill="#fff" />
<polygon points="159.55,244.1 159.55,247.1 157.6,247.1 156.25,246.1 156.25,245.1 157.6,244.1" fill="#fff" />
<polygon points="163,244.1 164,244.1 165.15,245.3 165.15,247.1 161.85,247.1 161.85,245.3" fill="#fff" />
<polygon points="105.85,249.8 109.15,249.8 109.15,252.8 105.85,252.8" fill="#fff" />
<polygon points="111.45,249.8 114.75,249.8 114.75,251.6 113.6,252.8 112.6,252.8 111.45,251.6" fill="#fff" />
<polygon points="120.35,249.8 120.35,252.8 118.4,252.8 117.05,251.8 117.05,250.8 118.4,249.8" fill="#fff" />
<polygon points="122.65,249.8 125.95,249.8 125.95,252.8 122.65,252.8" fill="#fff" />
<polygon points="128.25,249.8 131.55,249.8 131.55,251.6 130.4,252.8 129.4,252.8 128.25,251.6" fill="#fff" />
<polygon points="137.15,249.8 137.15,252.8 135.2,252.8 133.85,251.8 133.85,250.8 135.2,249.8" fill="#fff" />
<polygon points="139.45,249.8 142.75,249.8 142.75,252.8 139.45,252.8" fill="#fff" />
<polygon points="145.05,249.8 148.35,249.8 148.35,251.6 147.2,252.8 146.2,252.8 145.05,251.6" fill="#fff" />
<polygon points="153.95,249.8 153.95,252.8 152,252.8 150.65,251.8 150.65,250.8 152,249.8" fill="#fff" />
<polygon points="156.25,249.8 159.55,249.8 159.55,252.8 156.25,252.8" fill="#fff" />
<polygon points="161.85,249.8 165.15,249.8 165.15,251.6 164,252.8 163,252.8 161.85,251.6" fill="#fff" />
<polygon points="105.85,255.5 109.15,255.5 109.15,258.5 105.85,258.5" fill="#fff" />
<polygon points="111.45,256.1 114.75,256.1 114.75,258.1 111.45,258.1" fill="#fff" />
<polygon points="156.25,255.5 159.55,255.5 159.55,258.5 156.25,258.5" fill="#fff" />
<polygon points="161.85,256.1 165.15,256.1 165.15,258.1 161.85,258.1" fill="#fff" />
<polygon points="109.15,261.2 109.15,264.2 107.2,264.2 105.85,263.2 105.85,262.2 107.2,261.2" fill="#fff" />
<polygon points="111.45,261.2 114.75,261.2 114.75,264.2 111.45,264.2" fill="#fff" />
<polygon points="159.55,261.2 159.55,264.2 157.6,264.2 156.25,263.2 156.25,262.2 157.6,261.2" fill="#fff" />
<polygon points="161.85,261.2 165.15,261.2 165.15,264.2 161.85,264.2" fill="#fff" />
<polygon points="105.85,266.9 109.15,266.9 109.15,269.9 105.85,269.9" fill="#fff" />
<polygon points="111.45,266.9 114.75,266.9 114.75,269.9 111.45,269.9" fill="#fff" />
<polygon points="156.25,266.9 159.55,266.9 159.55,269.9 156.25,269.9" fill="#fff" />
<polygon points="161.85,266.9 165.15,266.9 165.15,269.9 161.85,269.9" fill="#fff" />
<polygon points="105.85,272.6 109.15,272.6 109.15,275.6 105.85,275.6" fill="#fff" />
<polygon points="111.45,272.6 113.4,272.6 114.75,273.6 114.75,274.6 113.4,275.6 111.45,275.6" fill="#fff" />
<polygon points="156.25,272.6 159.55,272.6 159.55,275.6 156.25,275.6" fill="#fff" />
<polygon points="161.85,272.6 163.8,272.6 165.15,273.6 165.15,274.6 163.8,275.6 161.85,275.6" fill="#fff" />
<polygon points="109.15,278.3 109.15,281.3 107.2,281.3 105.85,280.3 105.85,279.3 107.2,278.3" fill="#fff" />
<polygon points="112.45,278.3 113.75,278.3 113.75,279.1 114.75,279.1 114.75,280.5 113.75,280.5 113.75,281.3 112.45,281.3 112.45,280.5 111.45,280.5 111.45,279.1 112.45,279.1" fill="#fff" />
<polygon points="159.55,278.3 159.55,281.3 157.6,281.3 156.25,280.3 156.25,279.3 157.6,278.3" fill="#fff" />
<polygon points="162.85,278.3 164.15,278.3 164.15,279.1 165.15,279.1 165.15,280.5 164.15,280.5 164.15,281.3 162.85,281.3 162.85,280.5 161.85,280.5 161.85,279.1 162.85,279.1" fill="#fff" />
<polygon points="105.85,284 109.15,284 109.15,287 105.85,287" fill="#fff" />
<polygon points="114.75,284 114.75,287 112.8,287 111.45,286 111.45,285 112.8,284" fill="#fff" />
<polygon points="156.25,284 159.55,284 159.55,287 156.25,287" fill="#fff" />
<polygon points="165.15,284 165.15,287 163.2,287 161.85,286 161.85,285 163.2,284" fill="#fff" />
<polygon points="105.85,289.7 109.15,289.7 109.15,292.7 105.85,292.7" fill="#fff" />
<polygon points="111.45,289.7 114.75,289.7 114.75,292.7 111.45,292.7" fill="#fff" />
<polygon points="156.25,289.7 159.55,289.7 159.55,292.7 156.25,292.7" fill="#fff" />
<polygon points="161.85,289.7 165.15,289.7 165.15,292.7 161.85,292.7" fill="#fff" />
<polygon points="109.15,295.4 109.15,298.4 107.2,298.4 105.85,297.4 105.85,296.4 107.2,295.4" fill="#fff" />
<polygon points="112.6,295.4 113.6,295.4 114.75,296.6 114.75,298.4 111.45,298.4 111.45,296.6" fill="#fff" />
<polygon points="117.05,295.4 120.35,295.4 120.35,298.4 117.05,298.4" fill="#fff" />
<polygon points="122.65,295.4 125.95,295.4 125.95,298.4 122.65,298.4" fill="#fff" />
<polygon points="129.25,295.4 130.55,295.4 130.55,296.2 131.55,296.2 131.55,297.6 130.55,297.6 130.55,298.4 129.25,298.4 129.25,297.6 128.25,297.6 128.25,296.2 129.25,296.2" fill="#fff" />
<polygon points="133.85,295.4 135.8,295.4 137.15,296.4 137.15,297.4 135.8,298.4 133.85,298.4" fill="#fff" />
<polygon points="139.45,295.4 142.75,295.4 142.75,297.2 141.6,298.4 140.6,298.4 139.45,297.2" fill="#fff" />
<polygon points="145.05,295.4 148.35,295.4 148.35,298.4 145.05,298.4" fill="#fff" />
<polygon points="150.65,296 153.95,296 153.95,298 150.65,298" fill="#fff" />
<polygon points="159.55,295.4 159.55,298.4 157.6,298.4 156.25,297.4 156.25,296.4 157.6,295.4" fill="#fff" />
<polygon points="163,295.4 164,295.4 165.15,296.6 165.15,298.4 161.85,298.4 161.85,296.6" fill="#fff" />
<polygon points="105.85,301.1 109.15,301.1 109.15,304.1 105.85,304.1" fill="#fff" />
<polygon points="111.45,301.1 114.75,301.1 114.75,302.9 113.6,304.1 112.6,304.1 111.45,302.9" fill="#fff" />
<polygon points="120.35,301.1 120.35,304.1 118.4,304.1 117.05,303.1 117.05,302.1 118.4,301.1" fill="#fff" />
<polygon points="122.65,301.1 125.95,301.1 125.95,304.1 122.65,304.1" fill="#fff" />
<polygon points="128.25,301.1 131.55,301.1 131.55,302.9 130.4,304.1 129.4,304.1 128.25,302.9" fill="#fff" />
<polygon points="137.15,301.1 137.15,304.1 135.2,304.1 133.85,303.1 133.85,302.1 135.2,301.1" fill="#fff" />
<polygon points="139.45,301.1 142.75,301.1 142.75,304.1 139.45,304.1" fill="#fff" />
<polygon points="145.05,301.1 148.35,301.1 148.35,302.9 147.2,304.1 146.2,304.1 145.05,302.9" fill="#fff" />
<polygon points="153.95,301.1 153.95,304.1 152,304.1 150.65,303.1 150.65,302.1 152,301.1" fill="#fff" />
<polygon points="156.25,301.1 159.55,301.1 159.55,304.1 156.25,304.1" fill="#fff" />
<polygon points="161.85,301.1 165.15,301.1 165.15,302.9 164,304.1 163,304.1 161.85,302.9" fill="#fff" />
<rect x="117" y="256" width="37" height="36.3" fill="#fff" />
<polygon points="119.3,285.9 121.9,285.9 123.2,287.2 123.2,289.8 121.9,291.1 119.3,291.1 118,289.8 118,287.2" fill="#000" />
<polygon points="72,328.5 165,328.5 165,417.5 162,420.5 72,420.5" fill="#000" />
<polygon points="77.2,332 78.2,332 79.55,333.3 79.55,335.2 75.85,335.2 75.85,333.3" fill="#fff" />
<polygon points="81.77,332 85.47,332 85.47,335.2 81.77,335.2" fill="#fff" />
<polygon points="87.69,332 91.39,332 91.39,335.2 87.69,335.2" fill="#fff" />
<polygon points="94.61,332 96.31,332 96.31,332.8 97.31,332.8 97.31,334.4 96.31,334.4 96.31,335.2 94.61,335.2 94.61,334.4 93.61,334.4 93.61,332.8 94.61,332.8" fill="#fff" />
<polygon points="99.54,332 101.69,332 103.24,333.1 103.24,334.1 101.69,335.2 99.54,335.2" fill="#fff" />
<polygon points="105.46,332 109.16,332 109.16,333.9 107.81,335.2 106.81,335.2 105.46,333.9" fill="#fff" />
<polygon points="111.38,332 115.08,332 115.08,335.2 111.38,335.2" fill="#fff" />
<polygon points="117.3,332.6 121,332.6 121,334.8 117.3,334.8" fill="#fff" />
<polygon points="126.92,332 126.92,335.2 124.77,335.2 123.22,334.1 123.22,333.1 124.77,332" fill="#fff" />
<polygon points="130.49,332 131.49,332 132.84,333.3 132.84,335.2 129.14,335.2 129.14,333.3" fill="#fff" />
<polygon points="135.06,332 138.76,332 138.76,335.2 135.06,335.2" fill="#fff" />
<polygon points="140.99,332 144.69,332 144.69,335.2 140.99,335.2" fill="#fff" />
<polygon points="147.91,332 149.61,332 149.61,332.8 150.61,332.8 150.61,334.4 149.61,334.4 149.61,335.2 147.91,335.2 147.91,334.4 146.91,334.4 146.91,332.8 147.91,332.8" fill="#fff" />
<polygon points="152.83,332 154.98,332 156.53,333.1 156.53,334.1 154.98,335.2 152.83,335.2" fill="#fff" />
<polygon points="158.75,332 162.45,332 162.45,333.9 161.1,335.2 160.1,335.2 158.75,333.9" fill="#fff" />
<polygon points="76.85,337.77 78.55,337.77 78.55,338.57 79.55,338.57 79.55,340.17 78.55,340.17 78.55,340.97 76.85,340.97 76.85,340.17 75.85,340.17 75.85,338.57 76.85,338.57" fill="#fff" />
<polygon points="81.77,337.77 85.47,337.77 85.47,340.97 81.77,340.97" fill="#fff" />
<polygon points="89.04,337.77 90.04,337.77 91.39,339.07 91.39,340.97 87.69,340.97 87.69,339.07" fill="#fff" />
<polygon points="94.61,337.77 96.31,337.77 96.31,338.57 97.31,338.57 97.31,340.17 96.31,340.17 96.31,340.97 94.61,340.97 94.61,340.17 93.61,340.17 93.61,338.57 94.61,338.57" fill="#fff" />
<polygon points="99.54,337.77 103.24,337.77 103.24,340.97 99.54,340.97" fill="#fff" />
<polygon points="106.81,337.77 107.81,337.77 109.16,339.07 109.16,340.97 105.46,340.97 105.46,339.07" fill="#fff" />
<polygon points="112.38,337.77 114.08,337.77 114.08,338.57 115.08,338.57 115.08,340.17 114.08,340.17 114.08,340.97 112.38,340.97 112.38,340.17 111.38,340.17 111.38,338.57 112.38,338.57" fill="#fff" />
<polygon points="117.3,337.77 121,337.77 121,340.97 117.3,340.97" fill="#fff" />
<polygon points="124.57,337.77 125.57,337.77 126.92,339.07 126.92,340.97 123.22,340.97 123.22,339.07" fill="#fff" />
<polygon points="130.14,337.77 131.84,337.77 131.84,338.57 132.84,338.57 132.84,340.17 131.84,340.17 131.84,340.97 130.14,340.97 130.14,340.17 129.14,340.17 129.14,338.57 130.14,338.57" fill="#fff" />
<polygon points="135.06,337.77 138.76,337.77 138.76,340.97 135.06,340.97" fill="#fff" />
<polygon points="142.34,337.77 143.34,337.77 144.69,339.07 144.69,340.97 140.99,340.97 140.99,339.07" fill="#fff" />
<polygon points="147.91,337.77 149.61,337.77 149.61,338.57 150.61,338.57 150.61,340.17 149.61,340.17 149.61,340.97 147.91,340.97 147.91,340.17 146.91,340.17 146.91,338.57 147.91,338.57" fill="#fff" />
<polygon points="152.83,337.77 156.53,337.77 156.53,340.97 152.83,340.97" fill="#fff" />
<polygon points="160.1,337.77 161.1,337.77 162.45,339.07 162.45,340.97 158.75,340.97 158.75,339.07" fill="#fff" />
<polygon points="76.85,343.54 78.55,343.54 78.55,344.34 79.55,344.34 79.55,345.94 78.55,345.94 78.55,346.74 76.85,346.74 76.85,345.94 75.85,345.94 75.85,344.34 76.85,344.34" fill="#fff" />
<polygon points="85.47,343.54 85.47,346.74 83.32,346.74 81.77,345.64 81.77,344.64 83.32,343.54" fill="#fff" />
<polygon points="87.69,343.54 89.84,343.54 91.39,344.64 91.39,345.64 89.84,346.74 87.69,346.74" fill="#fff" />
<polygon points="94.96,343.54 95.96,343.54 97.31,344.84 97.31,346.74 93.61,346.74 93.61,344.84" fill="#fff" />
<polygon points="99.54,343.54 103.24,343.54 103.24,345.44 101.89,346.74 100.89,346.74 99.54,345.44" fill="#fff" />
<polygon points="105.46,343.54 109.16,343.54 109.16,346.74 105.46,346.74" fill="#fff" />
<polygon points="111.38,343.54 115.08,343.54 115.08,346.74 111.38,346.74" fill="#fff" />
<polygon points="117.3,343.54 121,343.54 121,346.74 117.3,346.74" fill="#fff" />
<polygon points="123.22,344.14 126.92,344.14 126.92,346.34 123.22,346.34" fill="#fff" />
<polygon points="130.14,343.54 131.84,343.54 131.84,344.34 132.84,344.34 132.84,345.94 131.84,345.94 131.84,346.74 130.14,346.74 130.14,345.94 129.14,345.94 129.14,344.34 130.14,344.34" fill="#fff" />
<polygon points="138.76,343.54 138.76,346.74 136.61,346.74 135.06,345.64 135.06,344.64 136.61,343.54" fill="#fff" />
<polygon points="140.99,343.54 143.14,343.54 144.69,344.64 144.69,345.64 143.14,346.74 140.99,346.74" fill="#fff" />
<polygon points="148.26,343.54 149.26,343.54 150.61,344.84 150.61,346.74 146.91,346.74 146.91,344.84" fill="#fff" />
<polygon points="152.83,343.54 156.53,343.54 156.53,345.44 155.18,346.74 154.18,346.74 152.83,345.44" fill="#fff" />
<polygon points="158.75,343.54 162.45,343.54 162.45,346.74 158.75,346.74" fill="#fff" />
<polygon points="77.2,349.31 78.2,349.31 79.55,350.61 79.55,352.51 75.85,352.51 75.85,350.61" fill="#fff" />
<polygon points="81.77,349.91 85.47,349.91 85.47,352.11 81.77,352.11" fill="#fff" />
<polygon points="87.69,349.31 91.39,349.31 91.39,351.21 90.04,352.51 89.04,352.51 87.69,351.21" fill="#fff" />
<polygon points="147.91,349.31 149.61,349.31 149.61,350.11 150.61,350.11 150.61,351.71 149.61,351.71 149.61,352.51 147.91,352.51 147.91,351.71 146.91,351.71 146.91,350.11 147.91,350.11" fill="#fff" />
<polygon points="152.83,349.31 156.53,349.31 156.53,352.51 152.83,352.51" fill="#fff" />
<polygon points="162.45,349.31 162.45,352.51 160.3,352.51 158.75,351.41 158.75,350.41 160.3,349.31" fill="#fff" />
<polygon points="76.85,355.09 78.55,355.09 78.55,355.89 79.55,355.89 79.55,357.49 78.55,357.49 78.55,358.29 76.85,358.29 76.85,357.49 75.85,357.49 75.85,355.89 76.85,355.89" fill="#fff" />
<polygon points="82.77,355.09 84.47,355.09 84.47,355.89 85.47,355.89 85.47,357.49 84.47,357.49 84.47,358.29 82.77,358.29 82.77,357.49 81.77,357.49 81.77,355.89 82.77,355.89" fill="#fff" />
<polygon points="88.69,355.09 90.39,355.09 90.39,355.89 91.39,355.89 91.39,357.49 90.39,357.49 90.39,358.29 88.69,358.29 88.69,357.49 87.69,357.49 87.69,355.89 88.69,355.89" fill="#fff" />
<polygon points="147.91,355.09 149.61,355.09 149.61,355.89 150.61,355.89 150.61,357.49 149.61,357.49 149.61,358.29 147.91,358.29 147.91,357.49 146.91,357.49 146.91,355.89 147.91,355.89" fill="#fff" />
<polygon points="153.83,355.09 155.53,355.09 155.53,355.89 156.53,355.89 156.53,357.49 155.53,357.49 155.53,358.29 153.83,358.29 153.83,357.49 152.83,357.49 152.83,355.89 153.83,355.89" fill="#fff" />
<polygon points="159.75,355.09 161.45,355.09 161.45,355.89 162.45,355.89 162.45,357.49 161.45,357.49 161.45,358.29 159.75,358.29 159.75,357.49 158.75,357.49 158.75,355.89 159.75,355.89" fill="#fff" />
<polygon points="76.85,360.86 78.55,360.86 78.55,361.66 79.55,361.66 79.55,363.26 78.55,363.26 78.55,364.06 76.85,364.06 76.85,363.26 75.85,363.26 75.85,361.66 76.85,361.66" fill="#fff" />
<polygon points="81.77,360.86 85.47,360.86 85.47,362.76 84.12,364.06 83.12,364.06 81.77,362.76" fill="#fff" />
<polygon points="87.69,361.46 91.39,361.46 91.39,363.66 87.69,363.66" fill="#fff" />
<polygon points="148.26,360.86 149.26,360.86 150.61,362.16 150.61,364.06 146.91,364.06 146.91,362.16" fill="#fff" />
<polygon points="152.83,360.86 156.53,360.86 156.53,364.06 152.83,364.06" fill="#fff" />
<polygon points="158.75,360.86 160.9,360.86 162.45,361.96 162.45,362.96 160.9,364.06 158.75,364.06" fill="#fff" />
<polygon points="77.2,366.63 78.2,366.63 79.55,367.93 79.55,369.83 75.85,369.83 75.85,367.93" fill="#fff" />
<polygon points="81.77,366.63 83.92,366.63 85.47,367.73 85.47,368.73 83.92,369.83 81.77,369.83" fill="#fff" />
<polygon points="91.39,366.63 91.39,369.83 89.24,369.83 87.69,368.73 87.69,367.73 89.24,366.63" fill="#fff" />
<polygon points="147.91,366.63 149.61,366.63 149.61,367.43 150.61,367.43 150.61,369.03 149.61,369.03 149.61,369.83 147.91,369.83 147.91,369.03 146.91,369.03 146.91,367.43 147.91,367.43" fill="#fff" />
<polygon points="152.83,367.23 156.53,367.23 156.53,369.43 152.83,369.43" fill="#fff" />
<polygon points="158.75,366.63 162.45,366.63 162.45,369.83 158.75,369.83" fill="#fff" />
<polygon points="76.85,372.4 78.55,372.4 78.55,373.2 79.55,373.2 79.55,374.8 78.55,374.8 78.55,375.6 76.85,375.6 76.85,374.8 75.85,374.8 75.85,373.2 76.85,373.2" fill="#fff" />
<polygon points="83.12,372.4 84.12,372.4 85.47,373.7 85.47,375.6 81.77,375.6 81.77,373.7" fill="#fff" />
<polygon points="87.69,372.4 91.39,372.4 91.39,375.6 87.69,375.6" fill="#fff" />
<polygon points="147.91,372.4 149.61,372.4 149.61,373.2 150.61,373.2 150.61,374.8 149.61,374.8 149.61,375.6 147.91,375.6 147.91,374.8 146.91,374.8 146.91,373.2 147.91,373.2" fill="#fff" />
<polygon points="154.18,372.4 155.18,372.4 156.53,373.7 156.53,375.6 152.83,375.6 152.83,373.7" fill="#fff" />
<polygon points="158.75,372.4 162.45,372.4 162.45,375.6 158.75,375.6" fill="#fff" />
<polygon points="76.85,378.17 78.55,378.17 78.55,378.97 79.55,378.97 79.55,380.57 78.55,380.57 78.55,381.37 76.85,381.37 76.85,380.57 75.85,380.57 75.85,378.97 76.85,378.97" fill="#fff" />
<polygon points="81.77,378.17 85.47,378.17 85.47,381.37 81.77,381.37" fill="#fff" />
<polygon points="87.69,378.17 91.39,378.17 91.39,381.37 87.69,381.37" fill="#fff" />
<polygon points="148.26,378.17 149.26,378.17 150.61,379.47 150.61,381.37 146.91,381.37 146.91,379.47" fill="#fff" />
<polygon points="156.53,378.17 156.53,381.37 154.38,381.37 152.83,380.27 152.83,379.27 154.38,378.17" fill="#fff" />
<polygon points="158.75,378.77 162.45,378.77 162.45,380.97 158.75,380.97" fill="#fff" />
<polygon points="77.2,383.94 78.2,383.94 79.55,385.24 79.55,387.14 75.85,387.14 75.85,385.24" fill="#fff" />
<polygon points="81.77,383.94 85.47,383.94 85.47,387.14 81.77,387.14" fill="#fff" />
<polygon points="87.69,383.94 91.39,383.94 91.39,387.14 87.69,387.14" fill="#fff" />
<polygon points="147.91,383.94 149.61,383.94 149.61,384.74 150.61,384.74 150.61,386.34 149.61,386.34 149.61,387.14 147.91,387.14 147.91,386.34 146.91,386.34 146.91,384.74 147.91,384.74" fill="#fff" />
<polygon points="152.83,383.94 154.98,383.94 156.53,385.04 156.53,386.04 154.98,387.14 152.83,387.14" fill="#fff" />
<polygon points="158.75,383.94 162.45,383.94 162.45,385.84 161.1,387.14 160.1,387.14 158.75,385.84" fill="#fff" />
<polygon points="76.85,389.71 78.55,389.71 78.55,390.51 79.55,390.51 79.55,392.11 78.55,392.11 78.55,392.91 76.85,392.91 76.85,392.11 75.85,392.11 75.85,390.51 76.85,390.51" fill="#fff" />
<polygon points="81.77,389.71 85.47,389.71 85.47,392.91 81.77,392.91" fill="#fff" />
<polygon points="89.04,389.71 90.04,389.71 91.39,391.01 91.39,392.91 87.69,392.91 87.69,391.01" fill="#fff" />
<polygon points="147.91,389.71 149.61,389.71 149.61,390.51 150.61,390.51 150.61,392.11 149.61,392.11 149.61,392.91 147.91,392.91 147.91,392.11 146.91,392.11 146.91,390.51 147.91,390.51" fill="#fff" />
<polygon points="152.83,389.71 156.53,389.71 156.53,392.91 152.83,392.91" fill="#fff" />
<polygon points="160.1,389.71 161.1,389.71 162.45,391.01 162.45,392.91 158.75,392.91 158.75,391.01" fill="#fff" />
<polygon points="76.85,395.49 78.55,395.49 78.55,396.29 79.55,396.29 79.55,397.89 78.55,397.89 78.55,398.69 76.85,398.69 76.85,397.89 75.85,397.89 75.85,396.29 76.85,396.29" fill="#fff" />
<polygon points="85.47,395.49 85.47,398.69 83.32,398.69 81.77,397.59 81.77,396.59 83.32,395.49" fill="#fff" />
<polygon points="87.69,395.49 89.84,395.49 91.39,396.59 91.39,397.59 89.84,398.69 87.69,398.69" fill="#fff" />
<polygon points="148.26,395.49 149.26,395.49 150.61,396.79 150.61,398.69 146.91,398.69 146.91,396.79" fill="#fff" />
<polygon points="152.83,395.49 156.53,395.49 156.53,397.39 155.18,398.69 154.18,398.69 152.83,397.39" fill="#fff" />
<polygon points="158.75,395.49 162.45,395.49 162.45,398.69 158.75,398.69" fill="#fff" />
<polygon points="77.2,401.26 78.2,401.26 79.55,402.56 79.55,404.46 75.85,404.46 75.85,402.56" fill="#fff" />
<polygon points="81.77,401.86 85.47,401.86 85.47,404.06 81.77,404.06" fill="#fff" />
<polygon points="87.69,401.26 91.39,401.26 91.39,403.16 90.04,404.46 89.04,404.46 87.69,403.16" fill="#fff" />
<polygon points="94.61,401.26 96.31,401.26 96.31,402.06 97.31,402.06 97.31,403.66 96.31,403.66 96.31,404.46 94.61,404.46 94.61,403.66 93.61,403.66 93.61,402.06 94.61,402.06" fill="#fff" />
<polygon points="99.54,401.26 103.24,401.26 103.24,404.46 99.54,404.46" fill="#fff" />
<polygon points="109.16,401.26 109.16,404.46 107.01,404.46 105.46,403.36 105.46,402.36 107.01,401.26" fill="#fff" />
<polygon points="111.38,401.26 115.08,401.26 115.08,404.46 111.38,404.46" fill="#fff" />
<polygon points="117.3,401.26 119.45,401.26 121,402.36 121,403.36 119.45,404.46 117.3,404.46" fill="#fff" />
<polygon points="123.22,401.26 126.92,401.26 126.92,404.46 123.22,404.46" fill="#fff" />
<polygon points="130.49,401.26 131.49,401.26 132.84,402.56 132.84,404.46 129.14,404.46 129.14,402.56" fill="#fff" />
<polygon points="135.06,401.86 138.76,401.86 138.76,404.06 135.06,404.06" fill="#fff" />
<polygon points="140.99,401.26 144.69,401.26 144.69,403.16 143.34,404.46 142.34,404.46 140.99,403.16" fill="#fff" />
<polygon points="147.91,401.26 149.61,401.26 149.61,402.06 150.61,402.06 150.61,403.66 149.61,403.66 149.61,404.46 147.91,404.46 147.91,403.66 146.91,403.66 146.91,402.06 147.91,402.06" fill="#fff" />
<polygon points="152.83,401.26 156.53,401.26 156.53,404.46 152.83,404.46" fill="#fff" />
<polygon points="162.45,401.26 162.45,404.46 160.3,404.46 158.75,403.36 158.75,402.36 160.3,401.26" fill="#fff" />
<polygon points="76.85,407.03 78.55,407.03 78.55,407.83 79.55,407.83 79.55,409.43 78.55,409.43 78.55,410.23 76.85,410.23 76.85,409.43 75.85,409.43 75.85,407.83 76.85,407.83" fill="#fff" />
<polygon points="82.77,407.03 84.47,407.03 84.47,407.83 85.47,407.83 85.47,409.43 84.47,409.43 84.47,410.23 82.77,410.23 82.77,409.43 81.77,409.43 81.77,407.83 82.77,407.83" fill="#fff" />
<polygon points="88.69,407.03 90.39,407.03 90.39,407.83 91.39,407.83 91.39,409.43 90.39,409.43 90.39,410.23 88.69,410.23 88.69,409.43 87.69,409.43 87.69,407.83 88.69,407.83" fill="#fff" />
<polygon points="94.61,407.03 96.31,407.03 96.31,407.83 97.31,407.83 97.31,409.43 96.31,409.43 96.31,410.23 94.61,410.23 94.61,409.43 93.61,409.43 93.61,407.83 94.61,407.83" fill="#fff" />
<polygon points="100.54,407.03 102.24,407.03 102.24,407.83 103.24,407.83 103.24,409.43 102.24,409.43 102.24,410.23 100.54,410.23 100.54,409.43 99.54,409.43 99.54,407.83 100.54,407.83" fill="#fff" />
<polygon points="106.46,407.03 108.16,407.03 108.16,407.83 109.16,407.83 109.16,409.43 108.16,409.43 108.16,410.23 106.46,410.23 106.46,409.43 105.46,409.43 105.46,407.83 106.46,407.83" fill="#fff" />
<polygon points="112.38,407.03 114.08,407.03 114.08,407.83 115.08,407.83 115.08,409.43 114.08,409.43 114.08,410.23 112.38,410.23 112.38,409.43 111.38,409.43 111.38,407.83 112.38,407.83" fill="#fff" />
<polygon points="118.3,407.03 120,407.03 120,407.83 121,407.83 121,409.43 120,409.43 120,410.23 118.3,410.23 118.3,409.43 117.3,409.43 117.3,407.83 118.3,407.83" fill="#fff" />
<polygon points="124.22,407.03 125.92,407.03 125.92,407.83 126.92,407.83 126.92,409.43 125.92,409.43 125.92,410.23 124.22,410.23 124.22,409.43 123.22,409.43 123.22,407.83 124.22,407.83" fill="#fff" />
<polygon points="130.14,407.03 131.84,407.03 131.84,407.83 132.84,407.83 132.84,409.43 131.84,409.43 131.84,410.23 130.14,410.23 130.14,409.43 129.14,409.43 129.14,407.83 130.14,407.83" fill="#fff" />
<polygon points="136.06,407.03 137.76,407.03 137.76,407.83 138.76,407.83 138.76,409.43 137.76,409.43 137.76,410.23 136.06,410.23 136.06,409.43 135.06,409.43 135.06,407.83 136.06,407.83" fill="#fff" />
<polygon points="141.99,407.03 143.69,407.03 143.69,407.83 144.69,407.83 144.69,409.43 143.69,409.43 143.69,410.23 141.99,410.23 141.99,409.43 140.99,409.43 140.99,407.83 141.99,407.83" fill="#fff" />
<polygon points="147.91,407.03 149.61,407.03 149.61,407.83 150.61,407.83 150.61,409.43 149.61,409.43 149.61,410.23 147.91,410.23 147.91,409.43 146.91,409.43 146.91,407.83 147.91,407.83" fill="#fff" />
<polygon points="153.83,407.03 155.53,407.03 155.53,407.83 156.53,407.83 156.53,409.43 155.53,409.43 155.53,410.23 153.83,410.23 153.83,409.43 152.83,409.43 152.83,407.83 153.83,407.83" fill="#fff" />
<polygon points="159.75,407.03 161.45,407.03 161.45,407.83 162.45,407.83 162.45,409.43 161.45,409.43 161.45,410.23 159.75,410.23 159.75,409.43 158.75,409.43 158.75,407.83 159.75,407.83" fill="#fff" />
<polygon points="76.85,412.8 78.55,412.8 78.55,413.6 79.55,413.6 79.55,415.2 78.55,415.2 78.55,416 76.85,416 76.85,415.2 75.85,415.2 75.85,413.6 76.85,413.6" fill="#fff" />
<polygon points="81.77,412.8 85.47,412.8 85.47,414.7 84.12,416 83.12,416 81.77,414.7" fill="#fff" />
<polygon points="87.69,413.4 91.39,413.4 91.39,415.6 87.69,415.6" fill="#fff" />
<polygon points="94.96,412.8 95.96,412.8 97.31,414.1 97.31,416 93.61,416 93.61,414.1" fill="#fff" />
<polygon points="99.54,412.8 103.24,412.8 103.24,416 99.54,416" fill="#fff" />
<polygon points="105.46,412.8 107.61,412.8 109.16,413.9 109.16,414.9 107.61,416 105.46,416" fill="#fff" />
<polygon points="111.38,412.8 115.08,412.8 115.08,416 111.38,416" fill="#fff" />
<polygon points="121,412.8 121,416 118.85,416 117.3,414.9 117.3,413.9 118.85,412.8" fill="#fff" />
<polygon points="123.22,412.8 126.92,412.8 126.92,416 123.22,416" fill="#fff" />
<polygon points="130.14,412.8 131.84,412.8 131.84,413.6 132.84,413.6 132.84,415.2 131.84,415.2 131.84,416 130.14,416 130.14,415.2 129.14,415.2 129.14,413.6 130.14,413.6" fill="#fff" />
<polygon points="135.06,412.8 138.76,412.8 138.76,414.7 137.41,416 136.41,416 135.06,414.7" fill="#fff" />
<polygon points="140.99,413.4 144.69,413.4 144.69,415.6 140.99,415.6" fill="#fff" />
<polygon points="148.26,412.8 149.26,412.8 150.61,414.1 150.61,416 146.91,416 146.91,414.1" fill="#fff" />
<polygon points="152.83,412.8 156.53,412.8 156.53,416 152.83,416" fill="#fff" />
<polygon points="158.75,412.8 160.9,412.8 162.45,413.9 162.45,414.9 160.9,416 158.75,416" fill="#fff" />
<rect x="96" y="351" width="46" height="47" fill="#fff" />
<polygon points="137.15,390.7 139.65,390.7 140.9,391.95 140.9,394.45 139.65,395.7 137.15,395.7 135.9,394.45 135.9,391.95" fill="#000" />
<rect x="141" y="172" width="33" height="18" rx="3.8" ry="3.8" fill="#000"/>
<rect x="143" y="174" width="29" height="14" rx="2.2" ry="2.2" fill="#fff"/>
<use href="#g67" x="144" y="176"/>
<use href="#g80" x="155" y="176"/>
<use href="#g85" x="163" y="176"/>
<rect x="120" y="265" width="31" height="18" rx="3.8" ry="3.8" fill="#000"/>
<rect x="122" y="267" width="27" height="14" rx="2.2" ry="2.2" fill="#fff"/>
<use href="#g78" x="123" y="269"/>
<use href="#g80" x="132" y="269"/>
<use href="#g85" x="141" y="269"/>
<polygon points="246,125 277,125 277,128 280,128 280,132 283,132 283,188 280,188 280,191 243,191 243,188 240,188 240,129 243,129 243,128 246,128" fill="#000" />
<rect x="248" y="125" width="1" height="3" fill="#fff" />
<rect x="251" y="125" width="1" height="3" fill="#fff" />
<rect x="253" y="125" width="1" height="3" fill="#fff" />
<rect x="267" y="125" width="1" height="3" fill="#fff" />
<rect x="269" y="125" width="1" height="3" fill="#fff" />
<rect x="272" y="125" width="1" height="3" fill="#fff" />
<rect x="251" y="188" width="1" height="3" fill="#fff" />
<rect x="254" y="188" width="1" height="3" fill="#fff" />
<rect x="257" y="188" width="1" height="3" fill="#fff" />
<rect x="260" y="188" width="1" height="3" fill="#fff" />
<rect x="272" y="188" width="1" height="3" fill="#fff" />
<rect x="276" y="188" width="1" height="3" fill="#fff" />
<rect x="240" y="133" width="3" height="1" fill="#fff" />
<rect x="240" y="137" width="3" height="1" fill="#fff" />
<rect x="240" y="148" width="3" height="1" fill="#fff" />
<rect x="240" y="151" width="3" height="1" fill="#fff" />
<rect x="240" y="154" width="3" height="1" fill="#fff" />
<rect x="240" y="165" width="3" height="1" fill="#fff" />
<rect x="240" y="168" width="3" height="1" fill="#fff" />
<rect x="240" y="171" width="3" height="1" fill="#fff" />
<rect x="240" y="182" width="3" height="1" fill="#fff" />
<rect x="280" y="142" width="3" height="1" fill="#fff" />
<rect x="280" y="145" width="3" height="1" fill="#fff" />
<rect x="280" y="156" width="3" height="1" fill="#fff" />
<rect x="280" y="159" width="3" height="1" fill="#fff" />
<rect x="280" y="162" width="3" height="1" fill="#fff" />
<rect x="280" y="173" width="3" height="1" fill="#fff" />
<rect x="280" y="176" width="3" height="1" fill="#fff" />
<rect x="280" y="179" width="3" height="1" fill="#fff" />
<polygon points="225,248 268,248 268,249 270,249 270,251 271,251 271,295 270,295 270,297 268,297 268,298 225,298 225,297 223,297 223,295 222,295 222,251 223,251 223,249 225,249" fill="#000" />
<rect x="494" y="448" width="42" height="89" fill="#000" />
<rect x="493" y="484.5" width="44" height="16.5" fill="#000" />
<rect x="494" y="485.5" width="42" height="14.5" fill="#fff" />
<use href="#g66" x="500" y="488"/>
<use href="#g73" x="507" y="488"/>
<use href="#g79" x="511" y="488"/>
<use href="#g83" x="522" y="488"/>
<rect x="544" y="410" width="42" height="127" fill="#000" />
<rect x="545" y="413" width="1" height="4" fill="#fff" />
<rect x="545" y="419" width="1" height="4" fill="#fff" />
<rect x="545" y="425" width="1" height="4" fill="#fff" />
<rect x="545" y="431" width="1" height="4" fill="#fff" />
<rect x="545" y="437" width="1" height="4" fill="#fff" />
<rect x="545" y="443" width="1" height="4" fill="#fff" />
<rect x="545" y="449" width="1" height="4" fill="#fff" />
<rect x="545" y="455" width="1" height="4" fill="#fff" />
<rect x="545" y="461" width="1" height="4" fill="#fff" />
<rect x="545" y="467" width="1" height="4" fill="#fff" />
<rect x="545" y="473" width="1" height="4" fill="#fff" />
<rect x="545" y="479" width="1" height="4" fill="#fff" />
<rect x="545" y="485" width="1" height="4" fill="#fff" />
<rect x="545" y="491" width="1" height="4" fill="#fff" />
<rect x="545" y="497" width="1" height="4" fill="#fff" />
<rect x="545" y="503" width="1" height="4" fill="#fff" />
<rect x="545" y="509" width="1" height="4" fill="#fff" />
<rect x="545" y="515" width="1" height="4" fill="#fff" />
<rect x="545" y="521" width="1" height="4" fill="#fff" />
<rect x="545" y="527" width="1" height="4" fill="#fff" />
<rect x="545" y="533" width="1" height="4" fill="#fff" />
<polygon points="559,537 560,535.4 570.5,535.4 571.5,537" fill="#fff" />
<rect x="551" y="467" width="28" height="14" rx="1.5" ry="1.5" fill="#fff"/>
<use href="#g75" x="552" y="469"/>
<use href="#g66" x="562" y="469"/>
<use href="#g68" x="571" y="469"/>
<rect x="171" y="371" width="60" height="24.7" fill="#000" />
<rect x="173.2" y="373.2" width="3.3" height="4.8" fill="#fff" />
<rect x="173.2" y="388.7" width="3.3" height="4.8" fill="#fff" />
<rect x="178.7" y="373.2" width="3.3" height="4.8" fill="#fff" />
<rect x="178.7" y="388.7" width="3.3" height="4.8" fill="#fff" />
<rect x="220.3" y="373.2" width="3.3" height="4.8" fill="#fff" />
<rect x="220.3" y="388.7" width="3.3" height="4.8" fill="#fff" />
<rect x="225.4" y="373.2" width="3.3" height="4.8" fill="#fff" />
<rect x="225.4" y="388.7" width="3.3" height="4.8" fill="#fff" />
<rect x="175.8" y="380.6" width="8.2" height="5.7" fill="#fff" />
<rect x="220.3" y="380.6" width="8" height="5.7" fill="#fff" />
<rect x="228.6" y="381" width="2.4" height="4.7" fill="#fff" />
<rect x="184.5" y="371.8" width="33.2" height="23.1" rx="2" ry="2" fill="#000"/>
<rect x="187" y="372.6" width="2.6" height="1" fill="#fff" />
<rect x="187" y="393.1" width="2.6" height="1" fill="#fff" />
<rect x="191.3" y="372.6" width="2.6" height="1" fill="#fff" />
<rect x="191.3" y="393.1" width="2.6" height="1" fill="#fff" />
<rect x="195.6" y="372.6" width="2.6" height="1" fill="#fff" />
<rect x="195.6" y="393.1" width="2.6" height="1" fill="#fff" />
<rect x="199.9" y="372.6" width="2.6" height="1" fill="#fff" />
<rect x="199.9" y="393.1" width="2.6" height="1" fill="#fff" />
<rect x="204.2" y="372.6" width="2.6" height="1" fill="#fff" />
<rect x="204.2" y="393.1" width="2.6" height="1" fill="#fff" />
<rect x="208.5" y="372.6" width="2.6" height="1" fill="#fff" />
<rect x="208.5" y="393.1" width="2.6" height="1" fill="#fff" />
<rect x="212.8" y="372.6" width="2.6" height="1" fill="#fff" />
<rect x="212.8" y="393.1" width="2.6" height="1" fill="#fff" />
<rect x="187" y="376" width="28.2" height="14.6" rx="1.2" ry="1.2" fill="#fff"/>
<use href="#g85" x="190" y="379"/>
<use href="#g50" x="199" y="379"/>
<use href="#g55" x="206" y="379"/>
<rect x="171" y="399" width="84" height="25" fill="#000" />
<rect x="174" y="401.2" width="3" height="4.8" fill="#fff" />
<rect x="174" y="417" width="3" height="4.8" fill="#fff" />
<rect x="178.45" y="401.2" width="3" height="4.8" fill="#fff" />
<rect x="178.45" y="417" width="3" height="4.8" fill="#fff" />
<rect x="182.9" y="401.2" width="3" height="4.8" fill="#fff" />
<rect x="182.9" y="417" width="3" height="4.8" fill="#fff" />
<rect x="187.35" y="401.2" width="3" height="4.8" fill="#fff" />
<rect x="187.35" y="417" width="3" height="4.8" fill="#fff" />
<rect x="191.8" y="401.2" width="3" height="4.8" fill="#fff" />
<rect x="191.8" y="417" width="3" height="4.8" fill="#fff" />
<rect x="232" y="401.2" width="3" height="4.8" fill="#fff" />
<rect x="232" y="417" width="3" height="4.8" fill="#fff" />
<rect x="236.45" y="401.2" width="3" height="4.8" fill="#fff" />
<rect x="236.45" y="417" width="3" height="4.8" fill="#fff" />
<rect x="240.9" y="401.2" width="3" height="4.8" fill="#fff" />
<rect x="240.9" y="417" width="3" height="4.8" fill="#fff" />
<rect x="245.35" y="401.2" width="3" height="4.8" fill="#fff" />
<rect x="245.35" y="417" width="3" height="4.8" fill="#fff" />
<rect x="249.8" y="401.2" width="3" height="4.8" fill="#fff" />
<rect x="249.8" y="417" width="3" height="4.8" fill="#fff" />
<rect x="175.8" y="408.6" width="21.2" height="6" fill="#fff" />
<rect x="229.7" y="408.6" width="19.6" height="6" fill="#fff" />
<rect x="252.6" y="409" width="2.4" height="5" fill="#fff" />
<rect x="196.5" y="399.8" width="34.3" height="23.4" rx="2" ry="2" fill="#000"/>
<rect x="199" y="400.6" width="2.6" height="1" fill="#fff" />
<rect x="199" y="421.4" width="2.6" height="1" fill="#fff" />
<rect x="203.3" y="400.6" width="2.6" height="1" fill="#fff" />
<rect x="203.3" y="421.4" width="2.6" height="1" fill="#fff" />
<rect x="207.6" y="400.6" width="2.6" height="1" fill="#fff" />
<rect x="207.6" y="421.4" width="2.6" height="1" fill="#fff" />
<rect x="211.9" y="400.6" width="2.6" height="1" fill="#fff" />
<rect x="211.9" y="421.4" width="2.6" height="1" fill="#fff" />
<rect x="216.2" y="400.6" width="2.6" height="1" fill="#fff" />
<rect x="216.2" y="421.4" width="2.6" height="1" fill="#fff" />
<rect x="220.5" y="400.6" width="2.6" height="1" fill="#fff" />
<rect x="220.5" y="421.4" width="2.6" height="1" fill="#fff" />
<rect x="224.8" y="400.6" width="2.6" height="1" fill="#fff" />
<rect x="224.8" y="421.4" width="2.6" height="1" fill="#fff" />
<rect x="199" y="404.8" width="29.3" height="14.2" rx="1.2" ry="1.2" fill="#fff"/>
<use href="#g85" x="202" y="407"/>
<use href="#g50" x="210" y="407"/>
<use href="#g54" x="218" y="407"/>
<rect x="82" y="428.75" width="83.5" height="25.1" fill="#000" />
<rect x="84" y="431.05" width="3.8" height="4.6" fill="#fff" />
<rect x="84" y="447.05" width="3.8" height="4.9" fill="#fff" />
<rect x="89.9" y="431.05" width="3.2" height="4.6" fill="#fff" />
<rect x="89.9" y="447.05" width="3.2" height="4.9" fill="#fff" />
<rect x="95.8" y="431.05" width="3.2" height="4.6" fill="#fff" />
<rect x="95.8" y="447.05" width="3.2" height="4.9" fill="#fff" />
<rect x="101.7" y="431.05" width="3.8" height="4.6" fill="#fff" />
<rect x="101.7" y="447.05" width="3.8" height="4.9" fill="#fff" />
<rect x="107.6" y="431.05" width="3.2" height="4.6" fill="#fff" />
<rect x="107.6" y="447.05" width="3.2" height="4.9" fill="#fff" />
<rect x="113.5" y="431.05" width="3.2" height="4.6" fill="#fff" />
<rect x="113.5" y="447.05" width="3.2" height="4.9" fill="#fff" />
<rect x="119.4" y="431.05" width="3.8" height="4.6" fill="#fff" />
<rect x="119.4" y="447.05" width="3.8" height="4.9" fill="#fff" />
<rect x="125.3" y="431.05" width="3.2" height="4.6" fill="#fff" />
<rect x="125.3" y="447.05" width="3.2" height="4.9" fill="#fff" />
<rect x="131.2" y="431.05" width="3.2" height="4.6" fill="#fff" />
<rect x="131.2" y="447.05" width="3.2" height="4.9" fill="#fff" />
<rect x="137.1" y="431.05" width="3.8" height="4.6" fill="#fff" />
<rect x="137.1" y="447.05" width="3.8" height="4.9" fill="#fff" />
<rect x="143" y="431.05" width="3.2" height="4.6" fill="#fff" />
<rect x="143" y="447.05" width="3.2" height="4.9" fill="#fff" />
<rect x="148.9" y="431.05" width="3.2" height="4.6" fill="#fff" />
<rect x="148.9" y="447.05" width="3.2" height="4.9" fill="#fff" />
<rect x="154.8" y="431.05" width="3.8" height="4.6" fill="#fff" />
<rect x="154.8" y="447.05" width="3.8" height="4.9" fill="#fff" />
<rect x="160.7" y="431.05" width="3.2" height="4.6" fill="#fff" />
<rect x="160.7" y="447.05" width="3.2" height="4.9" fill="#fff" />
<rect x="86.75" y="438.75" width="74.95" height="5" fill="#fff" />
<polygon points="161.7,438.75 164.3,438.75 164.3,439.75 162.9,441.25 164.3,442.75 164.3,443.75 161.7,443.75" fill="#000" />
<rect x="82" y="454.65" width="83.5" height="25.1" fill="#000" />
<rect x="84" y="456.95" width="3.8" height="4.6" fill="#fff" />
<rect x="84" y="472.95" width="3.8" height="4.9" fill="#fff" />
<rect x="89.9" y="456.95" width="3.2" height="4.6" fill="#fff" />
<rect x="89.9" y="472.95" width="3.2" height="4.9" fill="#fff" />
<rect x="95.8" y="456.95" width="3.2" height="4.6" fill="#fff" />
<rect x="95.8" y="472.95" width="3.2" height="4.9" fill="#fff" />
<rect x="101.7" y="456.95" width="3.8" height="4.6" fill="#fff" />
<rect x="101.7" y="472.95" width="3.8" height="4.9" fill="#fff" />
<rect x="107.6" y="456.95" width="3.2" height="4.6" fill="#fff" />
<rect x="107.6" y="472.95" width="3.2" height="4.9" fill="#fff" />
<rect x="113.5" y="456.95" width="3.2" height="4.6" fill="#fff" />
<rect x="113.5" y="472.95" width="3.2" height="4.9" fill="#fff" />
<rect x="119.4" y="456.95" width="3.8" height="4.6" fill="#fff" />
<rect x="119.4" y="472.95" width="3.8" height="4.9" fill="#fff" />
<rect x="125.3" y="456.95" width="3.2" height="4.6" fill="#fff" />
<rect x="125.3" y="472.95" width="3.2" height="4.9" fill="#fff" />
<rect x="131.2" y="456.95" width="3.2" height="4.6" fill="#fff" />
<rect x="131.2" y="472.95" width="3.2" height="4.9" fill="#fff" />
<rect x="137.1" y="456.95" width="3.8" height="4.6" fill="#fff" />
<rect x="137.1" y="472.95" width="3.8" height="4.9" fill="#fff" />
<rect x="143" y="456.95" width="3.2" height="4.6" fill="#fff" />
<rect x="143" y="472.95" width="3.2" height="4.9" fill="#fff" />
<rect x="148.9" y="456.95" width="3.2" height="4.6" fill="#fff" />
<rect x="148.9" y="472.95" width="3.2" height="4.9" fill="#fff" />
<rect x="154.8" y="456.95" width="3.8" height="4.6" fill="#fff" />
<rect x="154.8" y="472.95" width="3.8" height="4.9" fill="#fff" />
<rect x="160.7" y="456.95" width="3.2" height="4.6" fill="#fff" />
<rect x="160.7" y="472.95" width="3.2" height="4.9" fill="#fff" />
<rect x="86.75" y="464.65" width="74.95" height="5" fill="#fff" />
<polygon points="161.7,464.65 164.3,464.65 164.3,465.65 162.9,467.15 164.3,468.65 164.3,469.65 161.7,469.65" fill="#000" />
<rect x="82" y="480.55" width="83.5" height="25.1" fill="#000" />
<rect x="84" y="482.85" width="3.8" height="4.6" fill="#fff" />
<rect x="84" y="498.85" width="3.8" height="4.9" fill="#fff" />
<rect x="89.9" y="482.85" width="3.2" height="4.6" fill="#fff" />
<rect x="89.9" y="498.85" width="3.2" height="4.9" fill="#fff" />
<rect x="95.8" y="482.85" width="3.2" height="4.6" fill="#fff" />
<rect x="95.8" y="498.85" width="3.2" height="4.9" fill="#fff" />
<rect x="101.7" y="482.85" width="3.8" height="4.6" fill="#fff" />
<rect x="101.7" y="498.85" width="3.8" height="4.9" fill="#fff" />
<rect x="107.6" y="482.85" width="3.2" height="4.6" fill="#fff" />
<rect x="107.6" y="498.85" width="3.2" height="4.9" fill="#fff" />
<rect x="113.5" y="482.85" width="3.2" height="4.6" fill="#fff" />
<rect x="113.5" y="498.85" width="3.2" height="4.9" fill="#fff" />
<rect x="119.4" y="482.85" width="3.8" height="4.6" fill="#fff" />
<rect x="119.4" y="498.85" width="3.8" height="4.9" fill="#fff" />
<rect x="125.3" y="482.85" width="3.2" height="4.6" fill="#fff" />
<rect x="125.3" y="498.85" width="3.2" height="4.9" fill="#fff" />
<rect x="131.2" y="482.85" width="3.2" height="4.6" fill="#fff" />
<rect x="131.2" y="498.85" width="3.2" height="4.9" fill="#fff" />
<rect x="137.1" y="482.85" width="3.8" height="4.6" fill="#fff" />
<rect x="137.1" y="498.85" width="3.8" height="4.9" fill="#fff" />
<rect x="143" y="482.85" width="3.2" height="4.6" fill="#fff" />
<rect x="143" y="498.85" width="3.2" height="4.9" fill="#fff" />
<rect x="148.9" y="482.85" width="3.2" height="4.6" fill="#fff" />
<rect x="148.9" y="498.85" width="3.2" height="4.9" fill="#fff" />
<rect x="154.8" y="482.85" width="3.8" height="4.6" fill="#fff" />
<rect x="154.8" y="498.85" width="3.8" height="4.9" fill="#fff" />
<rect x="160.7" y="482.85" width="3.2" height="4.6" fill="#fff" />
<rect x="160.7" y="498.85" width="3.2" height="4.9" fill="#fff" />
<rect x="86.75" y="490.55" width="74.95" height="5" fill="#fff" />
<polygon points="161.7,490.55 164.3,490.55 164.3,491.55 162.9,493.05 164.3,494.55 164.3,495.55 161.7,495.55" fill="#000" />
<rect x="82" y="506.45" width="83.5" height="25.1" fill="#000" />
<rect x="84" y="508.75" width="3.8" height="4.6" fill="#fff" />
<rect x="84" y="524.75" width="3.8" height="4.9" fill="#fff" />
<rect x="89.9" y="508.75" width="3.2" height="4.6" fill="#fff" />
<rect x="89.9" y="524.75" width="3.2" height="4.9" fill="#fff" />
<rect x="95.8" y="508.75" width="3.2" height="4.6" fill="#fff" />
<rect x="95.8" y="524.75" width="3.2" height="4.9" fill="#fff" />
<rect x="101.7" y="508.75" width="3.8" height="4.6" fill="#fff" />
<rect x="101.7" y="524.75" width="3.8" height="4.9" fill="#fff" />
<rect x="107.6" y="508.75" width="3.2" height="4.6" fill="#fff" />
<rect x="107.6" y="524.75" width="3.2" height="4.9" fill="#fff" />
<rect x="113.5" y="508.75" width="3.2" height="4.6" fill="#fff" />
<rect x="113.5" y="524.75" width="3.2" height="4.9" fill="#fff" />
<rect x="119.4" y="508.75" width="3.8" height="4.6" fill="#fff" />
<rect x="119.4" y="524.75" width="3.8" height="4.9" fill="#fff" />
<rect x="125.3" y="508.75" width="3.2" height="4.6" fill="#fff" />
<rect x="125.3" y="524.75" width="3.2" height="4.9" fill="#fff" />
<rect x="131.2" y="508.75" width="3.2" height="4.6" fill="#fff" />
<rect x="131.2" y="524.75" width="3.2" height="4.9" fill="#fff" />
<rect x="137.1" y="508.75" width="3.8" height="4.6" fill="#fff" />
<rect x="137.1" y="524.75" width="3.8" height="4.9" fill="#fff" />
<rect x="143" y="508.75" width="3.2" height="4.6" fill="#fff" />
<rect x="143" y="524.75" width="3.2" height="4.9" fill="#fff" />
<rect x="148.9" y="508.75" width="3.2" height="4.6" fill="#fff" />
<rect x="148.9" y="524.75" width="3.2" height="4.9" fill="#fff" />
<rect x="154.8" y="508.75" width="3.8" height="4.6" fill="#fff" />
<rect x="154.8" y="524.75" width="3.8" height="4.9" fill="#fff" />
<rect x="160.7" y="508.75" width="3.2" height="4.6" fill="#fff" />
<rect x="160.7" y="524.75" width="3.2" height="4.9" fill="#fff" />
<rect x="86.75" y="516.45" width="74.95" height="5" fill="#fff" />
<polygon points="161.7,516.45 164.3,516.45 164.3,517.45 162.9,518.95 164.3,520.45 164.3,521.45 161.7,521.45" fill="#000" />
<rect x="120.6" y="438.5" width="3.8" height="84.5" fill="#000" />
<rect x="115.8" y="441.8" width="17" height="76.8" rx="3" ry="3" fill="#000"/>
<rect x="117" y="443" width="14.6" height="74.4" rx="2.2" ry="2.2" fill="#fff"/>
<use href="#g66" x="121" y="448"/>
<use href="#g65" x="121" y="462"/>
<use href="#g78" x="121" y="477"/>
<use href="#g75" x="121" y="491"/>
<use href="#g48" x="122" y="505"/>
<rect x="171.5" y="428.75" width="84" height="25.1" fill="#000" />
<rect x="173.5" y="431.05" width="3.8" height="4.6" fill="#fff" />
<rect x="173.5" y="447.05" width="3.8" height="4.9" fill="#fff" />
<rect x="179.4" y="431.05" width="3.2" height="4.6" fill="#fff" />
<rect x="179.4" y="447.05" width="3.2" height="4.9" fill="#fff" />
<rect x="185.3" y="431.05" width="3.2" height="4.6" fill="#fff" />
<rect x="185.3" y="447.05" width="3.2" height="4.9" fill="#fff" />
<rect x="191.2" y="431.05" width="3.8" height="4.6" fill="#fff" />
<rect x="191.2" y="447.05" width="3.8" height="4.9" fill="#fff" />
<rect x="197.1" y="431.05" width="3.2" height="4.6" fill="#fff" />
<rect x="197.1" y="447.05" width="3.2" height="4.9" fill="#fff" />
<rect x="203" y="431.05" width="3.2" height="4.6" fill="#fff" />
<rect x="203" y="447.05" width="3.2" height="4.9" fill="#fff" />
<rect x="208.9" y="431.05" width="3.8" height="4.6" fill="#fff" />
<rect x="208.9" y="447.05" width="3.8" height="4.9" fill="#fff" />
<rect x="214.8" y="431.05" width="3.2" height="4.6" fill="#fff" />
<rect x="214.8" y="447.05" width="3.2" height="4.9" fill="#fff" />
<rect x="220.7" y="431.05" width="3.2" height="4.6" fill="#fff" />
<rect x="220.7" y="447.05" width="3.2" height="4.9" fill="#fff" />
<rect x="226.6" y="431.05" width="3.8" height="4.6" fill="#fff" />
<rect x="226.6" y="447.05" width="3.8" height="4.9" fill="#fff" />
<rect x="232.5" y="431.05" width="3.2" height="4.6" fill="#fff" />
<rect x="232.5" y="447.05" width="3.2" height="4.9" fill="#fff" />
<rect x="238.4" y="431.05" width="3.2" height="4.6" fill="#fff" />
<rect x="238.4" y="447.05" width="3.2" height="4.9" fill="#fff" />
<rect x="244.3" y="431.05" width="3.8" height="4.6" fill="#fff" />
<rect x="244.3" y="447.05" width="3.8" height="4.9" fill="#fff" />
<rect x="250.2" y="431.05" width="3.2" height="4.6" fill="#fff" />
<rect x="250.2" y="447.05" width="3.2" height="4.9" fill="#fff" />
<rect x="176.25" y="438.75" width="75.45" height="5" fill="#fff" />
<polygon points="251.7,438.75 254.3,438.75 254.3,439.75 252.9,441.25 254.3,442.75 254.3,443.75 251.7,443.75" fill="#000" />
<rect x="171.5" y="454.65" width="84" height="25.1" fill="#000" />
<rect x="173.5" y="456.95" width="3.8" height="4.6" fill="#fff" />
<rect x="173.5" y="472.95" width="3.8" height="4.9" fill="#fff" />
<rect x="179.4" y="456.95" width="3.2" height="4.6" fill="#fff" />
<rect x="179.4" y="472.95" width="3.2" height="4.9" fill="#fff" />
<rect x="185.3" y="456.95" width="3.2" height="4.6" fill="#fff" />
<rect x="185.3" y="472.95" width="3.2" height="4.9" fill="#fff" />
<rect x="191.2" y="456.95" width="3.8" height="4.6" fill="#fff" />
<rect x="191.2" y="472.95" width="3.8" height="4.9" fill="#fff" />
<rect x="197.1" y="456.95" width="3.2" height="4.6" fill="#fff" />
<rect x="197.1" y="472.95" width="3.2" height="4.9" fill="#fff" />
<rect x="203" y="456.95" width="3.2" height="4.6" fill="#fff" />
<rect x="203" y="472.95" width="3.2" height="4.9" fill="#fff" />
<rect x="208.9" y="456.95" width="3.8" height="4.6" fill="#fff" />
<rect x="208.9" y="472.95" width="3.8" height="4.9" fill="#fff" />
<rect x="214.8" y="456.95" width="3.2" height="4.6" fill="#fff" />
<rect x="214.8" y="472.95" width="3.2" height="4.9" fill="#fff" />
<rect x="220.7" y="456.95" width="3.2" height="4.6" fill="#fff" />
<rect x="220.7" y="472.95" width="3.2" height="4.9" fill="#fff" />
<rect x="226.6" y="456.95" width="3.8" height="4.6" fill="#fff" />
<rect x="226.6" y="472.95" width="3.8" height="4.9" fill="#fff" />
<rect x="232.5" y="456.95" width="3.2" height="4.6" fill="#fff" />
<rect x="232.5" y="472.95" width="3.2" height="4.9" fill="#fff" />
<rect x="238.4" y="456.95" width="3.2" height="4.6" fill="#fff" />
<rect x="238.4" y="472.95" width="3.2" height="4.9" fill="#fff" />
<rect x="244.3" y="456.95" width="3.8" height="4.6" fill="#fff" />
<rect x="244.3" y="472.95" width="3.8" height="4.9" fill="#fff" />
<rect x="250.2" y="456.95" width="3.2" height="4.6" fill="#fff" />
<rect x="250.2" y="472.95" width="3.2" height="4.9" fill="#fff" />
<rect x="176.25" y="464.65" width="75.45" height="5" fill="#fff" />
<polygon points="251.7,464.65 254.3,464.65 254.3,465.65 252.9,467.15 254.3,468.65 254.3,469.65 251.7,469.65" fill="#000" />
<rect x="171.5" y="480.55" width="84" height="25.1" fill="#000" />
<rect x="173.5" y="482.85" width="3.8" height="4.6" fill="#fff" />
<rect x="173.5" y="498.85" width="3.8" height="4.9" fill="#fff" />
<rect x="179.4" y="482.85" width="3.2" height="4.6" fill="#fff" />
<rect x="179.4" y="498.85" width="3.2" height="4.9" fill="#fff" />
<rect x="185.3" y="482.85" width="3.2" height="4.6" fill="#fff" />
<rect x="185.3" y="498.85" width="3.2" height="4.9" fill="#fff" />
<rect x="191.2" y="482.85" width="3.8" height="4.6" fill="#fff" />
<rect x="191.2" y="498.85" width="3.8" height="4.9" fill="#fff" />
<rect x="197.1" y="482.85" width="3.2" height="4.6" fill="#fff" />
<rect x="197.1" y="498.85" width="3.2" height="4.9" fill="#fff" />
<rect x="203" y="482.85" width="3.2" height="4.6" fill="#fff" />
<rect x="203" y="498.85" width="3.2" height="4.9" fill="#fff" />
<rect x="208.9" y="482.85" width="3.8" height="4.6" fill="#fff" />
<rect x="208.9" y="498.85" width="3.8" height="4.9" fill="#fff" />
<rect x="214.8" y="482.85" width="3.2" height="4.6" fill="#fff" />
<rect x="214.8" y="498.85" width="3.2" height="4.9" fill="#fff" />
<rect x="220.7" y="482.85" width="3.2" height="4.6" fill="#fff" />
<rect x="220.7" y="498.85" width="3.2" height="4.9" fill="#fff" />
<rect x="226.6" y="482.85" width="3.8" height="4.6" fill="#fff" />
<rect x="226.6" y="498.85" width="3.8" height="4.9" fill="#fff" />
<rect x="232.5" y="482.85" width="3.2" height="4.6" fill="#fff" />
<rect x="232.5" y="498.85" width="3.2" height="4.9" fill="#fff" />
<rect x="238.4" y="482.85" width="3.2" height="4.6" fill="#fff" />
<rect x="238.4" y="498.85" width="3.2" height="4.9" fill="#fff" />
<rect x="244.3" y="482.85" width="3.8" height="4.6" fill="#fff" />
<rect x="244.3" y="498.85" width="3.8" height="4.9" fill="#fff" />
<rect x="250.2" y="482.85" width="3.2" height="4.6" fill="#fff" />
<rect x="250.2" y="498.85" width="3.2" height="4.9" fill="#fff" />
<rect x="176.25" y="490.55" width="75.45" height="5" fill="#fff" />
<polygon points="251.7,490.55 254.3,490.55 254.3,491.55 252.9,493.05 254.3,494.55 254.3,495.55 251.7,495.55" fill="#000" />
<rect x="171.5" y="506.45" width="84" height="25.1" fill="#000" />
<rect x="173.5" y="508.75" width="3.8" height="4.6" fill="#fff" />
<rect x="173.5" y="524.75" width="3.8" height="4.9" fill="#fff" />
<rect x="179.4" y="508.75" width="3.2" height="4.6" fill="#fff" />
<rect x="179.4" y="524.75" width="3.2" height="4.9" fill="#fff" />
<rect x="185.3" y="508.75" width="3.2" height="4.6" fill="#fff" />
<rect x="185.3" y="524.75" width="3.2" height="4.9" fill="#fff" />
<rect x="191.2" y="508.75" width="3.8" height="4.6" fill="#fff" />
<rect x="191.2" y="524.75" width="3.8" height="4.9" fill="#fff" />
<rect x="197.1" y="508.75" width="3.2" height="4.6" fill="#fff" />
<rect x="197.1" y="524.75" width="3.2" height="4.9" fill="#fff" />
<rect x="203" y="508.75" width="3.2" height="4.6" fill="#fff" />
<rect x="203" y="524.75" width="3.2" height="4.9" fill="#fff" />
<rect x="208.9" y="508.75" width="3.8" height="4.6" fill="#fff" />
<rect x="208.9" y="524.75" width="3.8" height="4.9" fill="#fff" />
<rect x="214.8" y="508.75" width="3.2" height="4.6" fill="#fff" />
<rect x="214.8" y="524.75" width="3.2" height="4.9" fill="#fff" />
<rect x="220.7" y="508.75" width="3.2" height="4.6" fill="#fff" />
<rect x="220.7" y="524.75" width="3.2" height="4.9" fill="#fff" />
<rect x="226.6" y="508.75" width="3.8" height="4.6" fill="#fff" />
<rect x="226.6" y="524.75" width="3.8" height="4.9" fill="#fff" />
<rect x="232.5" y="508.75" width="3.2" height="4.6" fill="#fff" />
<rect x="232.5" y="524.75" width="3.2" height="4.9" fill="#fff" />
<rect x="238.4" y="508.75" width="3.2" height="4.6" fill="#fff" />
<rect x="238.4" y="524.75" width="3.2" height="4.9" fill="#fff" />
<rect x="244.3" y="508.75" width="3.8" height="4.6" fill="#fff" />
<rect x="244.3" y="524.75" width="3.8" height="4.9" fill="#fff" />
<rect x="250.2" y="508.75" width="3.2" height="4.6" fill="#fff" />
<rect x="250.2" y="524.75" width="3.2" height="4.9" fill="#fff" />
<rect x="176.25" y="516.45" width="75.45" height="5" fill="#fff" />
<polygon points="251.7,516.45 254.3,516.45 254.3,517.45 252.9,518.95 254.3,520.45 254.3,521.45 251.7,521.45" fill="#000" />
<rect x="209.5" y="438.5" width="3.8" height="84.5" fill="#000" />
<rect x="204.8" y="441.8" width="16.8" height="76.8" rx="3" ry="3" fill="#000"/>
<rect x="206" y="443" width="14.4" height="74.4" rx="2.2" ry="2.2" fill="#fff"/>
<use href="#g66" x="210" y="448"/>
<use href="#g65" x="210" y="462"/>
<use href="#g78" x="210" y="477"/>
<use href="#g75" x="210" y="491"/>
<use href="#g49" x="212" y="505"/>
<rect x="144.2" y="473" width="47.4" height="14.2" fill="#000" />
<rect x="145.2" y="474" width="45.2" height="12" fill="#fff" />
<use href="#g67" x="147" y="475"/>
<use href="#g65" x="154" y="475"/>
<use href="#g67" x="163" y="475"/>
<use href="#g72" x="172" y="475"/>
<use href="#g69" x="182" y="475"/>
<rect x="260" y="381" width="227" height="19.2" fill="#000" />
<rect x="261" y="382" width="225" height="17.2" fill="#fff" />
<rect x="261" y="391.6" width="8" height="1" fill="#000" />
<rect x="269" y="383" width="3" height="16.2" fill="#000" />
<polygon points="272,384.6 282,384.6 282,394.4 280.2,394.4 280.2,399.2 272,399.2" fill="#000" />
<polygon points="273.2,385.8 280.8,385.8 280.8,393.2 279,393.2 279,398.6 273.2,398.6" fill="#fff" />
<rect x="274" y="391.6" width="5.8" height="1" fill="#000" />
<rect x="274" y="391.6" width="1" height="2.4" fill="#000" />
<rect x="278.8" y="391.6" width="1" height="2.4" fill="#000" />
<rect x="286" y="382.8" width="78.4" height="15.2" rx="1.6" ry="1.6" fill="#000"/>
<rect x="290" y="384.8" width="4" height="6" fill="#fff" />
<rect x="291.4" y="392.3" width="1.1" height="4.3" fill="#fff" />
<rect x="296" y="384.8" width="4" height="6" fill="#fff" />
<rect x="297.4" y="392.3" width="1.1" height="4.3" fill="#fff" />
<rect x="302" y="384.8" width="4" height="6" fill="#fff" />
<rect x="303.4" y="392.3" width="1.1" height="4.3" fill="#fff" />
<rect x="308" y="384.8" width="4" height="6" fill="#fff" />
<rect x="309.4" y="392.3" width="1.1" height="4.3" fill="#fff" />
<rect x="314" y="384.8" width="4" height="6" fill="#fff" />
<rect x="315.4" y="392.3" width="1.1" height="4.3" fill="#fff" />
<rect x="320" y="384.8" width="4" height="6" fill="#fff" />
<rect x="321.4" y="392.3" width="1.1" height="4.3" fill="#fff" />
<rect x="326" y="384.8" width="4" height="6" fill="#fff" />
<rect x="327.4" y="392.3" width="1.1" height="4.3" fill="#fff" />
<rect x="332" y="384.8" width="4" height="6" fill="#fff" />
<rect x="333.4" y="392.3" width="1.1" height="4.3" fill="#fff" />
<rect x="338" y="384.8" width="4" height="6" fill="#fff" />
<rect x="339.4" y="392.3" width="1.1" height="4.3" fill="#fff" />
<rect x="344" y="384.8" width="4" height="6" fill="#fff" />
<rect x="345.4" y="392.3" width="1.1" height="4.3" fill="#fff" />
<rect x="350" y="384.8" width="4" height="6" fill="#fff" />
<rect x="351.4" y="392.3" width="1.1" height="4.3" fill="#fff" />
<rect x="356" y="384.8" width="4" height="6" fill="#fff" />
<rect x="357.4" y="392.3" width="1.1" height="4.3" fill="#fff" />
<rect x="287" y="384.8" width="1.2" height="6" fill="#fff" />
<rect x="362.4" y="384.8" width="1" height="6" fill="#fff" />
<rect x="382.4" y="382.8" width="79.2" height="15.2" rx="1.6" ry="1.6" fill="#000"/>
<rect x="383" y="384.8" width="4" height="6" fill="#fff" />
<rect x="384.4" y="392.3" width="1.1" height="4.3" fill="#fff" />
<rect x="389" y="384.8" width="4" height="6" fill="#fff" />
<rect x="390.4" y="392.3" width="1.1" height="4.3" fill="#fff" />
<rect x="395" y="384.8" width="4" height="6" fill="#fff" />
<rect x="396.4" y="392.3" width="1.1" height="4.3" fill="#fff" />
<rect x="401" y="384.8" width="4" height="6" fill="#fff" />
<rect x="402.4" y="392.3" width="1.1" height="4.3" fill="#fff" />
<rect x="407" y="384.8" width="4" height="6" fill="#fff" />
<rect x="408.4" y="392.3" width="1.1" height="4.3" fill="#fff" />
<rect x="413" y="384.8" width="4" height="6" fill="#fff" />
<rect x="414.4" y="392.3" width="1.1" height="4.3" fill="#fff" />
<rect x="419" y="384.8" width="4" height="6" fill="#fff" />
<rect x="420.4" y="392.3" width="1.1" height="4.3" fill="#fff" />
<rect x="425" y="384.8" width="4" height="6" fill="#fff" />
<rect x="426.4" y="392.3" width="1.1" height="4.3" fill="#fff" />
<rect x="431" y="384.8" width="4" height="6" fill="#fff" />
<rect x="432.4" y="392.3" width="1.1" height="4.3" fill="#fff" />
<rect x="437" y="384.8" width="4" height="6" fill="#fff" />
<rect x="438.4" y="392.3" width="1.1" height="4.3" fill="#fff" />
<rect x="443" y="384.8" width="4" height="6" fill="#fff" />
<rect x="444.4" y="392.3" width="1.1" height="4.3" fill="#fff" />
<rect x="449" y="384.8" width="4" height="6" fill="#fff" />
<rect x="450.4" y="392.3" width="1.1" height="4.3" fill="#fff" />
<rect x="455" y="384.8" width="3" height="6" fill="#fff" />
<rect x="456.4" y="392.3" width="1.1" height="4.3" fill="#fff" />
<rect x="459.6" y="384.8" width="1" height="6" fill="#fff" />
<polygon points="466,384.6 476.4,384.6 476.4,399.2 467.8,399.2 467.8,394.4 466,394.4" fill="#000" />
<polygon points="467.2,385.8 475.2,385.8 475.2,398.6 469,398.6 469,393.2 467.2,393.2" fill="#fff" />
<rect x="468.2" y="391.6" width="5.4" height="1" fill="#000" />
<rect x="472.6" y="391.6" width="1" height="4" fill="#000" />
<rect x="472.6" y="394.6" width="3.4" height="1" fill="#000" />
<rect x="476" y="383" width="4" height="16.2" fill="#000" />
<rect x="478" y="384" width="0.6" height="15.2" fill="#fff" />
<rect x="480" y="391.6" width="6" height="1" fill="#000" />
<rect x="260" y="400.2" width="227" height="19.2" fill="#000" />
<rect x="261" y="401.2" width="225" height="17.2" fill="#fff" />
<rect x="261" y="410.8" width="8" height="1" fill="#000" />
<rect x="269" y="402.2" width="3" height="16.2" fill="#000" />
<polygon points="272,403.8 282,403.8 282,413.6 280.2,413.6 280.2,418.4 272,418.4" fill="#000" />
<polygon points="273.2,405 280.8,405 280.8,412.4 279,412.4 279,417.8 273.2,417.8" fill="#fff" />
<rect x="274" y="410.8" width="5.8" height="1" fill="#000" />
<rect x="274" y="410.8" width="1" height="2.4" fill="#000" />
<rect x="278.8" y="410.8" width="1" height="2.4" fill="#000" />
<rect x="286" y="402" width="78.4" height="15.2" rx="1.6" ry="1.6" fill="#000"/>
<rect x="290" y="404" width="4" height="6" fill="#fff" />
<rect x="291.4" y="411.5" width="1.1" height="4.3" fill="#fff" />
<rect x="296" y="404" width="4" height="6" fill="#fff" />
<rect x="297.4" y="411.5" width="1.1" height="4.3" fill="#fff" />
<rect x="302" y="404" width="4" height="6" fill="#fff" />
<rect x="303.4" y="411.5" width="1.1" height="4.3" fill="#fff" />
<rect x="308" y="404" width="4" height="6" fill="#fff" />
<rect x="309.4" y="411.5" width="1.1" height="4.3" fill="#fff" />
<rect x="314" y="404" width="4" height="6" fill="#fff" />
<rect x="315.4" y="411.5" width="1.1" height="4.3" fill="#fff" />
<rect x="320" y="404" width="4" height="6" fill="#fff" />
<rect x="321.4" y="411.5" width="1.1" height="4.3" fill="#fff" />
<rect x="326" y="404" width="4" height="6" fill="#fff" />
<rect x="327.4" y="411.5" width="1.1" height="4.3" fill="#fff" />
<rect x="332" y="404" width="4" height="6" fill="#fff" />
<rect x="333.4" y="411.5" width="1.1" height="4.3" fill="#fff" />
<rect x="338" y="404" width="4" height="6" fill="#fff" />
<rect x="339.4" y="411.5" width="1.1" height="4.3" fill="#fff" />
<rect x="344" y="404" width="4" height="6" fill="#fff" />
<rect x="345.4" y="411.5" width="1.1" height="4.3" fill="#fff" />
<rect x="350" y="404" width="4" height="6" fill="#fff" />
<rect x="351.4" y="411.5" width="1.1" height="4.3" fill="#fff" />
<rect x="356" y="404" width="4" height="6" fill="#fff" />
<rect x="357.4" y="411.5" width="1.1" height="4.3" fill="#fff" />
<rect x="287" y="404" width="1.2" height="6" fill="#fff" />
<rect x="362.4" y="404" width="1" height="6" fill="#fff" />
<rect x="382.4" y="402" width="79.2" height="15.2" rx="1.6" ry="1.6" fill="#000"/>
<rect x="383" y="404" width="4" height="6" fill="#fff" />
<rect x="384.4" y="411.5" width="1.1" height="4.3" fill="#fff" />
<rect x="389" y="404" width="4" height="6" fill="#fff" />
<rect x="390.4" y="411.5" width="1.1" height="4.3" fill="#fff" />
<rect x="395" y="404" width="4" height="6" fill="#fff" />
<rect x="396.4" y="411.5" width="1.1" height="4.3" fill="#fff" />
<rect x="401" y="404" width="4" height="6" fill="#fff" />
<rect x="402.4" y="411.5" width="1.1" height="4.3" fill="#fff" />
<rect x="407" y="404" width="4" height="6" fill="#fff" />
<rect x="408.4" y="411.5" width="1.1" height="4.3" fill="#fff" />
<rect x="413" y="404" width="4" height="6" fill="#fff" />
<rect x="414.4" y="411.5" width="1.1" height="4.3" fill="#fff" />
<rect x="419" y="404" width="4" height="6" fill="#fff" />
<rect x="420.4" y="411.5" width="1.1" height="4.3" fill="#fff" />
<rect x="425" y="404" width="4" height="6" fill="#fff" />
<rect x="426.4" y="411.5" width="1.1" height="4.3" fill="#fff" />
<rect x="431" y="404" width="4" height="6" fill="#fff" />
<rect x="432.4" y="411.5" width="1.1" height="4.3" fill="#fff" />
<rect x="437" y="404" width="4" height="6" fill="#fff" />
<rect x="438.4" y="411.5" width="1.1" height="4.3" fill="#fff" />
<rect x="443" y="404" width="4" height="6" fill="#fff" />
<rect x="444.4" y="411.5" width="1.1" height="4.3" fill="#fff" />
<rect x="449" y="404" width="4" height="6" fill="#fff" />
<rect x="450.4" y="411.5" width="1.1" height="4.3" fill="#fff" />
<rect x="455" y="404" width="3" height="6" fill="#fff" />
<rect x="456.4" y="411.5" width="1.1" height="4.3" fill="#fff" />
<rect x="459.6" y="404" width="1" height="6" fill="#fff" />
<polygon points="466,403.8 476.4,403.8 476.4,418.4 467.8,418.4 467.8,413.6 466,413.6" fill="#000" />
<polygon points="467.2,405 475.2,405 475.2,417.8 469,417.8 469,412.4 467.2,412.4" fill="#fff" />
<rect x="468.2" y="410.8" width="5.4" height="1" fill="#000" />
<rect x="472.6" y="410.8" width="1" height="4" fill="#000" />
<rect x="472.6" y="413.8" width="3.4" height="1" fill="#000" />
<rect x="476" y="402.2" width="4" height="16.2" fill="#000" />
<rect x="478" y="403.2" width="0.6" height="15.2" fill="#fff" />
<rect x="480" y="410.8" width="6" height="1" fill="#000" />
<rect x="260" y="419.4" width="227" height="19.2" fill="#000" />
<rect x="261" y="420.4" width="225" height="17.2" fill="#fff" />
<rect x="261" y="430" width="8" height="1" fill="#000" />
<rect x="269" y="421.4" width="3" height="16.2" fill="#000" />
<polygon points="272,423 282,423 282,432.8 280.2,432.8 280.2,437.6 272,437.6" fill="#000" />
<polygon points="273.2,424.2 280.8,424.2 280.8,431.6 279,431.6 279,437 273.2,437" fill="#fff" />
<rect x="274" y="430" width="5.8" height="1" fill="#000" />
<rect x="274" y="430" width="1" height="2.4" fill="#000" />
<rect x="278.8" y="430" width="1" height="2.4" fill="#000" />
<rect x="286" y="421.2" width="78.4" height="15.2" rx="1.6" ry="1.6" fill="#000"/>
<rect x="290" y="423.2" width="4" height="6" fill="#fff" />
<rect x="291.4" y="430.7" width="1.1" height="4.3" fill="#fff" />
<rect x="296" y="423.2" width="4" height="6" fill="#fff" />
<rect x="297.4" y="430.7" width="1.1" height="4.3" fill="#fff" />
<rect x="302" y="423.2" width="4" height="6" fill="#fff" />
<rect x="303.4" y="430.7" width="1.1" height="4.3" fill="#fff" />
<rect x="308" y="423.2" width="4" height="6" fill="#fff" />
<rect x="309.4" y="430.7" width="1.1" height="4.3" fill="#fff" />
<rect x="314" y="423.2" width="4" height="6" fill="#fff" />
<rect x="315.4" y="430.7" width="1.1" height="4.3" fill="#fff" />
<rect x="320" y="423.2" width="4" height="6" fill="#fff" />
<rect x="321.4" y="430.7" width="1.1" height="4.3" fill="#fff" />
<rect x="326" y="423.2" width="4" height="6" fill="#fff" />
<rect x="327.4" y="430.7" width="1.1" height="4.3" fill="#fff" />
<rect x="332" y="423.2" width="4" height="6" fill="#fff" />
<rect x="333.4" y="430.7" width="1.1" height="4.3" fill="#fff" />
<rect x="338" y="423.2" width="4" height="6" fill="#fff" />
<rect x="339.4" y="430.7" width="1.1" height="4.3" fill="#fff" />
<rect x="344" y="423.2" width="4" height="6" fill="#fff" />
<rect x="345.4" y="430.7" width="1.1" height="4.3" fill="#fff" />
<rect x="350" y="423.2" width="4" height="6" fill="#fff" />
<rect x="351.4" y="430.7" width="1.1" height="4.3" fill="#fff" />
<rect x="356" y="423.2" width="4" height="6" fill="#fff" />
<rect x="357.4" y="430.7" width="1.1" height="4.3" fill="#fff" />
<rect x="287" y="423.2" width="1.2" height="6" fill="#fff" />
<rect x="362.4" y="423.2" width="1" height="6" fill="#fff" />
<rect x="382.4" y="421.2" width="79.2" height="15.2" rx="1.6" ry="1.6" fill="#000"/>
<rect x="383" y="423.2" width="4" height="6" fill="#fff" />
<rect x="384.4" y="430.7" width="1.1" height="4.3" fill="#fff" />
<rect x="389" y="423.2" width="4" height="6" fill="#fff" />
<rect x="390.4" y="430.7" width="1.1" height="4.3" fill="#fff" />
<rect x="395" y="423.2" width="4" height="6" fill="#fff" />
<rect x="396.4" y="430.7" width="1.1" height="4.3" fill="#fff" />
<rect x="401" y="423.2" width="4" height="6" fill="#fff" />
<rect x="402.4" y="430.7" width="1.1" height="4.3" fill="#fff" />
<rect x="407" y="423.2" width="4" height="6" fill="#fff" />
<rect x="408.4" y="430.7" width="1.1" height="4.3" fill="#fff" />
<rect x="413" y="423.2" width="4" height="6" fill="#fff" />
<rect x="414.4" y="430.7" width="1.1" height="4.3" fill="#fff" />
<rect x="419" y="423.2" width="4" height="6" fill="#fff" />
<rect x="420.4" y="430.7" width="1.1" height="4.3" fill="#fff" />
<rect x="425" y="423.2" width="4" height="6" fill="#fff" />
<rect x="426.4" y="430.7" width="1.1" height="4.3" fill="#fff" />
<rect x="431" y="423.2" width="4" height="6" fill="#fff" />
<rect x="432.4" y="430.7" width="1.1" height="4.3" fill="#fff" />
<rect x="437" y="423.2" width="4" height="6" fill="#fff" />
<rect x="438.4" y="430.7" width="1.1" height="4.3" fill="#fff" />
<rect x="443" y="423.2" width="4" height="6" fill="#fff" />
<rect x="444.4" y="430.7" width="1.1" height="4.3" fill="#fff" />
<rect x="449" y="423.2" width="4" height="6" fill="#fff" />
<rect x="450.4" y="430.7" width="1.1" height="4.3" fill="#fff" />
<rect x="455" y="423.2" width="3" height="6" fill="#fff" />
<rect x="456.4" y="430.7" width="1.1" height="4.3" fill="#fff" />
<rect x="459.6" y="423.2" width="1" height="6" fill="#fff" />
<polygon points="466,423 476.4,423 476.4,437.6 467.8,437.6 467.8,432.8 466,432.8" fill="#000" />
<polygon points="467.2,424.2 475.2,424.2 475.2,437 469,437 469,431.6 467.2,431.6" fill="#fff" />
<rect x="468.2" y="430" width="5.4" height="1" fill="#000" />
<rect x="472.6" y="430" width="1" height="4" fill="#000" />
<rect x="472.6" y="433" width="3.4" height="1" fill="#000" />
<rect x="476" y="421.4" width="4" height="16.2" fill="#000" />
<rect x="478" y="422.4" width="0.6" height="15.2" fill="#fff" />
<rect x="480" y="430" width="6" height="1" fill="#000" />
<rect x="260" y="438.6" width="227" height="19.2" fill="#000" />
<rect x="261" y="439.6" width="225" height="17.2" fill="#fff" />
<rect x="261" y="449.2" width="8" height="1" fill="#000" />
<rect x="269" y="440.6" width="3" height="16.2" fill="#000" />
<polygon points="272,442.2 282,442.2 282,452 280.2,452 280.2,456.8 272,456.8" fill="#000" />
<polygon points="273.2,443.4 280.8,443.4 280.8,450.8 279,450.8 279,456.2 273.2,456.2" fill="#fff" />
<rect x="274" y="449.2" width="5.8" height="1" fill="#000" />
<rect x="274" y="449.2" width="1" height="2.4" fill="#000" />
<rect x="278.8" y="449.2" width="1" height="2.4" fill="#000" />
<rect x="286" y="440.4" width="78.4" height="15.2" rx="1.6" ry="1.6" fill="#000"/>
<rect x="290" y="442.4" width="4" height="6" fill="#fff" />
<rect x="291.4" y="449.9" width="1.1" height="4.3" fill="#fff" />
<rect x="296" y="442.4" width="4" height="6" fill="#fff" />
<rect x="297.4" y="449.9" width="1.1" height="4.3" fill="#fff" />
<rect x="302" y="442.4" width="4" height="6" fill="#fff" />
<rect x="303.4" y="449.9" width="1.1" height="4.3" fill="#fff" />
<rect x="308" y="442.4" width="4" height="6" fill="#fff" />
<rect x="309.4" y="449.9" width="1.1" height="4.3" fill="#fff" />
<rect x="314" y="442.4" width="4" height="6" fill="#fff" />
<rect x="315.4" y="449.9" width="1.1" height="4.3" fill="#fff" />
<rect x="320" y="442.4" width="4" height="6" fill="#fff" />
<rect x="321.4" y="449.9" width="1.1" height="4.3" fill="#fff" />
<rect x="326" y="442.4" width="4" height="6" fill="#fff" />
<rect x="327.4" y="449.9" width="1.1" height="4.3" fill="#fff" />
<rect x="332" y="442.4" width="4" height="6" fill="#fff" />
<rect x="333.4" y="449.9" width="1.1" height="4.3" fill="#fff" />
<rect x="338" y="442.4" width="4" height="6" fill="#fff" />
<rect x="339.4" y="449.9" width="1.1" height="4.3" fill="#fff" />
<rect x="344" y="442.4" width="4" height="6" fill="#fff" />
<rect x="345.4" y="449.9" width="1.1" height="4.3" fill="#fff" />
<rect x="350" y="442.4" width="4" height="6" fill="#fff" />
<rect x="351.4" y="449.9" width="1.1" height="4.3" fill="#fff" />
<rect x="356" y="442.4" width="4" height="6" fill="#fff" />
<rect x="357.4" y="449.9" width="1.1" height="4.3" fill="#fff" />
<rect x="287" y="442.4" width="1.2" height="6" fill="#fff" />
<rect x="362.4" y="442.4" width="1" height="6" fill="#fff" />
<rect x="382.4" y="440.4" width="79.2" height="15.2" rx="1.6" ry="1.6" fill="#000"/>
<rect x="383" y="442.4" width="4" height="6" fill="#fff" />
<rect x="384.4" y="449.9" width="1.1" height="4.3" fill="#fff" />
<rect x="389" y="442.4" width="4" height="6" fill="#fff" />
<rect x="390.4" y="449.9" width="1.1" height="4.3" fill="#fff" />
<rect x="395" y="442.4" width="4" height="6" fill="#fff" />
<rect x="396.4" y="449.9" width="1.1" height="4.3" fill="#fff" />
<rect x="401" y="442.4" width="4" height="6" fill="#fff" />
<rect x="402.4" y="449.9" width="1.1" height="4.3" fill="#fff" />
<rect x="407" y="442.4" width="4" height="6" fill="#fff" />
<rect x="408.4" y="449.9" width="1.1" height="4.3" fill="#fff" />
<rect x="413" y="442.4" width="4" height="6" fill="#fff" />
<rect x="414.4" y="449.9" width="1.1" height="4.3" fill="#fff" />
<rect x="419" y="442.4" width="4" height="6" fill="#fff" />
<rect x="420.4" y="449.9" width="1.1" height="4.3" fill="#fff" />
<rect x="425" y="442.4" width="4" height="6" fill="#fff" />
<rect x="426.4" y="449.9" width="1.1" height="4.3" fill="#fff" />
<rect x="431" y="442.4" width="4" height="6" fill="#fff" />
<rect x="432.4" y="449.9" width="1.1" height="4.3" fill="#fff" />
<rect x="437" y="442.4" width="4" height="6" fill="#fff" />
<rect x="438.4" y="449.9" width="1.1" height="4.3" fill="#fff" />
<rect x="443" y="442.4" width="4" height="6" fill="#fff" />
<rect x="444.4" y="449.9" width="1.1" height="4.3" fill="#fff" />
<rect x="449" y="442.4" width="4" height="6" fill="#fff" />
<rect x="450.4" y="449.9" width="1.1" height="4.3" fill="#fff" />
<rect x="455" y="442.4" width="3" height="6" fill="#fff" />
<rect x="456.4" y="449.9" width="1.1" height="4.3" fill="#fff" />
<rect x="459.6" y="442.4" width="1" height="6" fill="#fff" />
<polygon points="466,442.2 476.4,442.2 476.4,456.8 467.8,456.8 467.8,452 466,452" fill="#000" />
<polygon points="467.2,443.4 475.2,443.4 475.2,456.2 469,456.2 469,450.8 467.2,450.8" fill="#fff" />
<rect x="468.2" y="449.2" width="5.4" height="1" fill="#000" />
<rect x="472.6" y="449.2" width="1" height="4" fill="#000" />
<rect x="472.6" y="452.2" width="3.4" height="1" fill="#000" />
<rect x="476" y="440.6" width="4" height="16.2" fill="#000" />
<rect x="478" y="441.6" width="0.6" height="15.2" fill="#fff" />
<rect x="480" y="449.2" width="6" height="1" fill="#000" />
<rect x="260" y="463" width="227" height="19.2" fill="#000" />
<rect x="261" y="464" width="225" height="17.2" fill="#fff" />
<rect x="261" y="473.6" width="8" height="1" fill="#000" />
<rect x="269" y="465" width="3" height="16.2" fill="#000" />
<polygon points="272,466.6 282,466.6 282,476.4 280.2,476.4 280.2,481.2 272,481.2" fill="#000" />
<polygon points="273.2,467.8 280.8,467.8 280.8,475.2 279,475.2 279,480.6 273.2,480.6" fill="#fff" />
<rect x="274" y="473.6" width="5.8" height="1" fill="#000" />
<rect x="274" y="473.6" width="1" height="2.4" fill="#000" />
<rect x="278.8" y="473.6" width="1" height="2.4" fill="#000" />
<rect x="286" y="464.8" width="78.4" height="15.2" rx="1.6" ry="1.6" fill="#000"/>
<rect x="290" y="466.8" width="4" height="6" fill="#fff" />
<rect x="291.4" y="474.3" width="1.1" height="4.3" fill="#fff" />
<rect x="296" y="466.8" width="4" height="6" fill="#fff" />
<rect x="297.4" y="474.3" width="1.1" height="4.3" fill="#fff" />
<rect x="302" y="466.8" width="4" height="6" fill="#fff" />
<rect x="303.4" y="474.3" width="1.1" height="4.3" fill="#fff" />
<rect x="308" y="466.8" width="4" height="6" fill="#fff" />
<rect x="309.4" y="474.3" width="1.1" height="4.3" fill="#fff" />
<rect x="314" y="466.8" width="4" height="6" fill="#fff" />
<rect x="315.4" y="474.3" width="1.1" height="4.3" fill="#fff" />
<rect x="320" y="466.8" width="4" height="6" fill="#fff" />
<rect x="321.4" y="474.3" width="1.1" height="4.3" fill="#fff" />
<rect x="326" y="466.8" width="4" height="6" fill="#fff" />
<rect x="327.4" y="474.3" width="1.1" height="4.3" fill="#fff" />
<rect x="332" y="466.8" width="4" height="6" fill="#fff" />
<rect x="333.4" y="474.3" width="1.1" height="4.3" fill="#fff" />
<rect x="338" y="466.8" width="4" height="6" fill="#fff" />
<rect x="339.4" y="474.3" width="1.1" height="4.3" fill="#fff" />
<rect x="344" y="466.8" width="4" height="6" fill="#fff" />
<rect x="345.4" y="474.3" width="1.1" height="4.3" fill="#fff" />
<rect x="350" y="466.8" width="4" height="6" fill="#fff" />
<rect x="351.4" y="474.3" width="1.1" height="4.3" fill="#fff" />
<rect x="356" y="466.8" width="4" height="6" fill="#fff" />
<rect x="357.4" y="474.3" width="1.1" height="4.3" fill="#fff" />
<rect x="287" y="466.8" width="1.2" height="6" fill="#fff" />
<rect x="362.4" y="466.8" width="1" height="6" fill="#fff" />
<rect x="382.4" y="464.8" width="79.2" height="15.2" rx="1.6" ry="1.6" fill="#000"/>
<rect x="383" y="466.8" width="4" height="6" fill="#fff" />
<rect x="384.4" y="474.3" width="1.1" height="4.3" fill="#fff" />
<rect x="389" y="466.8" width="4" height="6" fill="#fff" />
<rect x="390.4" y="474.3" width="1.1" height="4.3" fill="#fff" />
<rect x="395" y="466.8" width="4" height="6" fill="#fff" />
<rect x="396.4" y="474.3" width="1.1" height="4.3" fill="#fff" />
<rect x="401" y="466.8" width="4" height="6" fill="#fff" />
<rect x="402.4" y="474.3" width="1.1" height="4.3" fill="#fff" />
<rect x="407" y="466.8" width="4" height="6" fill="#fff" />
<rect x="408.4" y="474.3" width="1.1" height="4.3" fill="#fff" />
<rect x="413" y="466.8" width="4" height="6" fill="#fff" />
<rect x="414.4" y="474.3" width="1.1" height="4.3" fill="#fff" />
<rect x="419" y="466.8" width="4" height="6" fill="#fff" />
<rect x="420.4" y="474.3" width="1.1" height="4.3" fill="#fff" />
<rect x="425" y="466.8" width="4" height="6" fill="#fff" />
<rect x="426.4" y="474.3" width="1.1" height="4.3" fill="#fff" />
<rect x="431" y="466.8" width="4" height="6" fill="#fff" />
<rect x="432.4" y="474.3" width="1.1" height="4.3" fill="#fff" />
<rect x="437" y="466.8" width="4" height="6" fill="#fff" />
<rect x="438.4" y="474.3" width="1.1" height="4.3" fill="#fff" />
<rect x="443" y="466.8" width="4" height="6" fill="#fff" />
<rect x="444.4" y="474.3" width="1.1" height="4.3" fill="#fff" />
<rect x="449" y="466.8" width="4" height="6" fill="#fff" />
<rect x="450.4" y="474.3" width="1.1" height="4.3" fill="#fff" />
<rect x="455" y="466.8" width="3" height="6" fill="#fff" />
<rect x="456.4" y="474.3" width="1.1" height="4.3" fill="#fff" />
<rect x="459.6" y="466.8" width="1" height="6" fill="#fff" />
<polygon points="466,466.6 476.4,466.6 476.4,481.2 467.8,481.2 467.8,476.4 466,476.4" fill="#000" />
<polygon points="467.2,467.8 475.2,467.8 475.2,480.6 469,480.6 469,475.2 467.2,475.2" fill="#fff" />
<rect x="468.2" y="473.6" width="5.4" height="1" fill="#000" />
<rect x="472.6" y="473.6" width="1" height="4" fill="#000" />
<rect x="472.6" y="476.6" width="3.4" height="1" fill="#000" />
<rect x="476" y="465" width="4" height="16.2" fill="#000" />
<rect x="478" y="466" width="0.6" height="15.2" fill="#fff" />
<rect x="480" y="473.6" width="6" height="1" fill="#000" />
<rect x="260" y="482.2" width="227" height="19.2" fill="#000" />
<rect x="261" y="483.2" width="225" height="17.2" fill="#fff" />
<rect x="261" y="492.8" width="8" height="1" fill="#000" />
<rect x="269" y="484.2" width="3" height="16.2" fill="#000" />
<polygon points="272,485.8 282,485.8 282,495.6 280.2,495.6 280.2,500.4 272,500.4" fill="#000" />
<polygon points="273.2,487 280.8,487 280.8,494.4 279,494.4 279,499.8 273.2,499.8" fill="#fff" />
<rect x="274" y="492.8" width="5.8" height="1" fill="#000" />
<rect x="274" y="492.8" width="1" height="2.4" fill="#000" />
<rect x="278.8" y="492.8" width="1" height="2.4" fill="#000" />
<rect x="286" y="484" width="78.4" height="15.2" rx="1.6" ry="1.6" fill="#000"/>
<rect x="290" y="486" width="4" height="6" fill="#fff" />
<rect x="291.4" y="493.5" width="1.1" height="4.3" fill="#fff" />
<rect x="296" y="486" width="4" height="6" fill="#fff" />
<rect x="297.4" y="493.5" width="1.1" height="4.3" fill="#fff" />
<rect x="302" y="486" width="4" height="6" fill="#fff" />
<rect x="303.4" y="493.5" width="1.1" height="4.3" fill="#fff" />
<rect x="308" y="486" width="4" height="6" fill="#fff" />
<rect x="309.4" y="493.5" width="1.1" height="4.3" fill="#fff" />
<rect x="314" y="486" width="4" height="6" fill="#fff" />
<rect x="315.4" y="493.5" width="1.1" height="4.3" fill="#fff" />
<rect x="320" y="486" width="4" height="6" fill="#fff" />
<rect x="321.4" y="493.5" width="1.1" height="4.3" fill="#fff" />
<rect x="326" y="486" width="4" height="6" fill="#fff" />
<rect x="327.4" y="493.5" width="1.1" height="4.3" fill="#fff" />
<rect x="332" y="486" width="4" height="6" fill="#fff" />
<rect x="333.4" y="493.5" width="1.1" height="4.3" fill="#fff" />
<rect x="338" y="486" width="4" height="6" fill="#fff" />
<rect x="339.4" y="493.5" width="1.1" height="4.3" fill="#fff" />
<rect x="344" y="486" width="4" height="6" fill="#fff" />
<rect x="345.4" y="493.5" width="1.1" height="4.3" fill="#fff" />
<rect x="350" y="486" width="4" height="6" fill="#fff" />
<rect x="351.4" y="493.5" width="1.1" height="4.3" fill="#fff" />
<rect x="356" y="486" width="4" height="6" fill="#fff" />
<rect x="357.4" y="493.5" width="1.1" height="4.3" fill="#fff" />
<rect x="287" y="486" width="1.2" height="6" fill="#fff" />
<rect x="362.4" y="486" width="1" height="6" fill="#fff" />
<rect x="382.4" y="484" width="79.2" height="15.2" rx="1.6" ry="1.6" fill="#000"/>
<rect x="383" y="486" width="4" height="6" fill="#fff" />
<rect x="384.4" y="493.5" width="1.1" height="4.3" fill="#fff" />
<rect x="389" y="486" width="4" height="6" fill="#fff" />
<rect x="390.4" y="493.5" width="1.1" height="4.3" fill="#fff" />
<rect x="395" y="486" width="4" height="6" fill="#fff" />
<rect x="396.4" y="493.5" width="1.1" height="4.3" fill="#fff" />
<rect x="401" y="486" width="4" height="6" fill="#fff" />
<rect x="402.4" y="493.5" width="1.1" height="4.3" fill="#fff" />
<rect x="407" y="486" width="4" height="6" fill="#fff" />
<rect x="408.4" y="493.5" width="1.1" height="4.3" fill="#fff" />
<rect x="413" y="486" width="4" height="6" fill="#fff" />
<rect x="414.4" y="493.5" width="1.1" height="4.3" fill="#fff" />
<rect x="419" y="486" width="4" height="6" fill="#fff" />
<rect x="420.4" y="493.5" width="1.1" height="4.3" fill="#fff" />
<rect x="425" y="486" width="4" height="6" fill="#fff" />
<rect x="426.4" y="493.5" width="1.1" height="4.3" fill="#fff" />
<rect x="431" y="486" width="4" height="6" fill="#fff" />
<rect x="432.4" y="493.5" width="1.1" height="4.3" fill="#fff" />
<rect x="437" y="486" width="4" height="6" fill="#fff" />
<rect x="438.4" y="493.5" width="1.1" height="4.3" fill="#fff" />
<rect x="443" y="486" width="4" height="6" fill="#fff" />
<rect x="444.4" y="493.5" width="1.1" height="4.3" fill="#fff" />
<rect x="449" y="486" width="4" height="6" fill="#fff" />
<rect x="450.4" y="493.5" width="1.1" height="4.3" fill="#fff" />
<rect x="455" y="486" width="3" height="6" fill="#fff" />
<rect x="456.4" y="493.5" width="1.1" height="4.3" fill="#fff" />
<rect x="459.6" y="486" width="1" height="6" fill="#fff" />
<polygon points="466,485.8 476.4,485.8 476.4,500.4 467.8,500.4 467.8,495.6 466,495.6" fill="#000" />
<polygon points="467.2,487 475.2,487 475.2,499.8 469,499.8 469,494.4 467.2,494.4" fill="#fff" />
<rect x="468.2" y="492.8" width="5.4" height="1" fill="#000" />
<rect x="472.6" y="492.8" width="1" height="4" fill="#000" />
<rect x="472.6" y="495.8" width="3.4" height="1" fill="#000" />
<rect x="476" y="484.2" width="4" height="16.2" fill="#000" />
<rect x="478" y="485.2" width="0.6" height="15.2" fill="#fff" />
<rect x="480" y="492.8" width="6" height="1" fill="#000" />
<rect x="260" y="501.4" width="227" height="19.2" fill="#000" />
<rect x="261" y="502.4" width="225" height="17.2" fill="#fff" />
<rect x="261" y="512" width="8" height="1" fill="#000" />
<rect x="269" y="503.4" width="3" height="16.2" fill="#000" />
<polygon points="272,505 282,505 282,514.8 280.2,514.8 280.2,519.6 272,519.6" fill="#000" />
<polygon points="273.2,506.2 280.8,506.2 280.8,513.6 279,513.6 279,519 273.2,519" fill="#fff" />
<rect x="274" y="512" width="5.8" height="1" fill="#000" />
<rect x="274" y="512" width="1" height="2.4" fill="#000" />
<rect x="278.8" y="512" width="1" height="2.4" fill="#000" />
<rect x="286" y="503.2" width="78.4" height="15.2" rx="1.6" ry="1.6" fill="#000"/>
<rect x="290" y="505.2" width="4" height="6" fill="#fff" />
<rect x="291.4" y="512.7" width="1.1" height="4.3" fill="#fff" />
<rect x="296" y="505.2" width="4" height="6" fill="#fff" />
<rect x="297.4" y="512.7" width="1.1" height="4.3" fill="#fff" />
<rect x="302" y="505.2" width="4" height="6" fill="#fff" />
<rect x="303.4" y="512.7" width="1.1" height="4.3" fill="#fff" />
<rect x="308" y="505.2" width="4" height="6" fill="#fff" />
<rect x="309.4" y="512.7" width="1.1" height="4.3" fill="#fff" />
<rect x="314" y="505.2" width="4" height="6" fill="#fff" />
<rect x="315.4" y="512.7" width="1.1" height="4.3" fill="#fff" />
<rect x="320" y="505.2" width="4" height="6" fill="#fff" />
<rect x="321.4" y="512.7" width="1.1" height="4.3" fill="#fff" />
<rect x="326" y="505.2" width="4" height="6" fill="#fff" />
<rect x="327.4" y="512.7" width="1.1" height="4.3" fill="#fff" />
<rect x="332" y="505.2" width="4" height="6" fill="#fff" />
<rect x="333.4" y="512.7" width="1.1" height="4.3" fill="#fff" />
<rect x="338" y="505.2" width="4" height="6" fill="#fff" />
<rect x="339.4" y="512.7" width="1.1" height="4.3" fill="#fff" />
<rect x="344" y="505.2" width="4" height="6" fill="#fff" />
<rect x="345.4" y="512.7" width="1.1" height="4.3" fill="#fff" />
<rect x="350" y="505.2" width="4" height="6" fill="#fff" />
<rect x="351.4" y="512.7" width="1.1" height="4.3" fill="#fff" />
<rect x="356" y="505.2" width="4" height="6" fill="#fff" />
<rect x="357.4" y="512.7" width="1.1" height="4.3" fill="#fff" />
<rect x="287" y="505.2" width="1.2" height="6" fill="#fff" />
<rect x="362.4" y="505.2" width="1" height="6" fill="#fff" />
<rect x="382.4" y="503.2" width="79.2" height="15.2" rx="1.6" ry="1.6" fill="#000"/>
<rect x="383" y="505.2" width="4" height="6" fill="#fff" />
<rect x="384.4" y="512.7" width="1.1" height="4.3" fill="#fff" />
<rect x="389" y="505.2" width="4" height="6" fill="#fff" />
<rect x="390.4" y="512.7" width="1.1" height="4.3" fill="#fff" />
<rect x="395" y="505.2" width="4" height="6" fill="#fff" />
<rect x="396.4" y="512.7" width="1.1" height="4.3" fill="#fff" />
<rect x="401" y="505.2" width="4" height="6" fill="#fff" />
<rect x="402.4" y="512.7" width="1.1" height="4.3" fill="#fff" />
<rect x="407" y="505.2" width="4" height="6" fill="#fff" />
<rect x="408.4" y="512.7" width="1.1" height="4.3" fill="#fff" />
<rect x="413" y="505.2" width="4" height="6" fill="#fff" />
<rect x="414.4" y="512.7" width="1.1" height="4.3" fill="#fff" />
<rect x="419" y="505.2" width="4" height="6" fill="#fff" />
<rect x="420.4" y="512.7" width="1.1" height="4.3" fill="#fff" />
<rect x="425" y="505.2" width="4" height="6" fill="#fff" />
<rect x="426.4" y="512.7" width="1.1" height="4.3" fill="#fff" />
<rect x="431" y="505.2" width="4" height="6" fill="#fff" />
<rect x="432.4" y="512.7" width="1.1" height="4.3" fill="#fff" />
<rect x="437" y="505.2" width="4" height="6" fill="#fff" />
<rect x="438.4" y="512.7" width="1.1" height="4.3" fill="#fff" />
<rect x="443" y="505.2" width="4" height="6" fill="#fff" />
<rect x="444.4" y="512.7" width="1.1" height="4.3" fill="#fff" />
<rect x="449" y="505.2" width="4" height="6" fill="#fff" />
<rect x="450.4" y="512.7" width="1.1" height="4.3" fill="#fff" />
<rect x="455" y="505.2" width="3" height="6" fill="#fff" />
<rect x="456.4" y="512.7" width="1.1" height="4.3" fill="#fff" />
<rect x="459.6" y="505.2" width="1" height="6" fill="#fff" />
<polygon points="466,505 476.4,505 476.4,519.6 467.8,519.6 467.8,514.8 466,514.8" fill="#000" />
<polygon points="467.2,506.2 475.2,506.2 475.2,519 469,519 469,513.6 467.2,513.6" fill="#fff" />
<rect x="468.2" y="512" width="5.4" height="1" fill="#000" />
<rect x="472.6" y="512" width="1" height="4" fill="#000" />
<rect x="472.6" y="515" width="3.4" height="1" fill="#000" />
<rect x="476" y="503.4" width="4" height="16.2" fill="#000" />
<rect x="478" y="504.4" width="0.6" height="15.2" fill="#fff" />
<rect x="480" y="512" width="6" height="1" fill="#000" />
<rect x="260" y="520.6" width="227" height="19.2" fill="#000" />
<rect x="261" y="521.6" width="225" height="17.2" fill="#fff" />
<rect x="261" y="531.2" width="8" height="1" fill="#000" />
<rect x="269" y="522.6" width="3" height="16.2" fill="#000" />
<polygon points="272,524.2 282,524.2 282,534 280.2,534 280.2,538.8 272,538.8" fill="#000" />
<polygon points="273.2,525.4 280.8,525.4 280.8,532.8 279,532.8 279,538.2 273.2,538.2" fill="#fff" />
<rect x="274" y="531.2" width="5.8" height="1" fill="#000" />
<rect x="274" y="531.2" width="1" height="2.4" fill="#000" />
<rect x="278.8" y="531.2" width="1" height="2.4" fill="#000" />
<rect x="286" y="522.4" width="78.4" height="15.2" rx="1.6" ry="1.6" fill="#000"/>
<rect x="290" y="524.4" width="4" height="6" fill="#fff" />
<rect x="291.4" y="531.9" width="1.1" height="4.3" fill="#fff" />
<rect x="296" y="524.4" width="4" height="6" fill="#fff" />
<rect x="297.4" y="531.9" width="1.1" height="4.3" fill="#fff" />
<rect x="302" y="524.4" width="4" height="6" fill="#fff" />
<rect x="303.4" y="531.9" width="1.1" height="4.3" fill="#fff" />
<rect x="308" y="524.4" width="4" height="6" fill="#fff" />
<rect x="309.4" y="531.9" width="1.1" height="4.3" fill="#fff" />
<rect x="314" y="524.4" width="4" height="6" fill="#fff" />
<rect x="315.4" y="531.9" width="1.1" height="4.3" fill="#fff" />
<rect x="320" y="524.4" width="4" height="6" fill="#fff" />
<rect x="321.4" y="531.9" width="1.1" height="4.3" fill="#fff" />
<rect x="326" y="524.4" width="4" height="6" fill="#fff" />
<rect x="327.4" y="531.9" width="1.1" height="4.3" fill="#fff" />
<rect x="332" y="524.4" width="4" height="6" fill="#fff" />
<rect x="333.4" y="531.9" width="1.1" height="4.3" fill="#fff" />
<rect x="338" y="524.4" width="4" height="6" fill="#fff" />
<rect x="339.4" y="531.9" width="1.1" height="4.3" fill="#fff" />
<rect x="344" y="524.4" width="4" height="6" fill="#fff" />
<rect x="345.4" y="531.9" width="1.1" height="4.3" fill="#fff" />
<rect x="350" y="524.4" width="4" height="6" fill="#fff" />
<rect x="351.4" y="531.9" width="1.1" height="4.3" fill="#fff" />
<rect x="356" y="524.4" width="4" height="6" fill="#fff" />
<rect x="357.4" y="531.9" width="1.1" height="4.3" fill="#fff" />
<rect x="287" y="524.4" width="1.2" height="6" fill="#fff" />
<rect x="362.4" y="524.4" width="1" height="6" fill="#fff" />
<rect x="382.4" y="522.4" width="79.2" height="15.2" rx="1.6" ry="1.6" fill="#000"/>
<rect x="383" y="524.4" width="4" height="6" fill="#fff" />
<rect x="384.4" y="531.9" width="1.1" height="4.3" fill="#fff" />
<rect x="389" y="524.4" width="4" height="6" fill="#fff" />
<rect x="390.4" y="531.9" width="1.1" height="4.3" fill="#fff" />
<rect x="395" y="524.4" width="4" height="6" fill="#fff" />
<rect x="396.4" y="531.9" width="1.1" height="4.3" fill="#fff" />
<rect x="401" y="524.4" width="4" height="6" fill="#fff" />
<rect x="402.4" y="531.9" width="1.1" height="4.3" fill="#fff" />
<rect x="407" y="524.4" width="4" height="6" fill="#fff" />
<rect x="408.4" y="531.9" width="1.1" height="4.3" fill="#fff" />
<rect x="413" y="524.4" width="4" height="6" fill="#fff" />
<rect x="414.4" y="531.9" width="1.1" height="4.3" fill="#fff" />
<rect x="419" y="524.4" width="4" height="6" fill="#fff" />
<rect x="420.4" y="531.9" width="1.1" height="4.3" fill="#fff" />
<rect x="425" y="524.4" width="4" height="6" fill="#fff" />
<rect x="426.4" y="531.9" width="1.1" height="4.3" fill="#fff" />
<rect x="431" y="524.4" width="4" height="6" fill="#fff" />
<rect x="432.4" y="531.9" width="1.1" height="4.3" fill="#fff" />
<rect x="437" y="524.4" width="4" height="6" fill="#fff" />
<rect x="438.4" y="531.9" width="1.1" height="4.3" fill="#fff" />
<rect x="443" y="524.4" width="4" height="6" fill="#fff" />
<rect x="444.4" y="531.9" width="1.1" height="4.3" fill="#fff" />
<rect x="449" y="524.4" width="4" height="6" fill="#fff" />
<rect x="450.4" y="531.9" width="1.1" height="4.3" fill="#fff" />
<rect x="455" y="524.4" width="3" height="6" fill="#fff" />
<rect x="456.4" y="531.9" width="1.1" height="4.3" fill="#fff" />
<rect x="459.6" y="524.4" width="1" height="6" fill="#fff" />
<polygon points="466,524.2 476.4,524.2 476.4,538.8 467.8,538.8 467.8,534 466,534" fill="#000" />
<polygon points="467.2,525.4 475.2,525.4 475.2,538.2 469,538.2 469,532.8 467.2,532.8" fill="#fff" />
<rect x="468.2" y="531.2" width="5.4" height="1" fill="#000" />
<rect x="472.6" y="531.2" width="1" height="4" fill="#000" />
<rect x="472.6" y="534.2" width="3.4" height="1" fill="#000" />
<rect x="476" y="522.6" width="4" height="16.2" fill="#000" />
<rect x="478" y="523.6" width="0.6" height="15.2" fill="#fff" />
<rect x="480" y="531.2" width="6" height="1" fill="#000" />
<rect x="365" y="381" width="18" height="76.6" rx="2.5" ry="2.5" fill="#000"/>
<rect x="366.5" y="382" width="15" height="74.6" rx="2" ry="2" fill="#fff"/>
<use href="#g66" x="370" y="385"/>
<use href="#g65" x="370" y="401"/>
<use href="#g78" x="370" y="415"/>
<use href="#g75" x="370" y="430"/>
<use href="#g48" x="371" y="444"/>
<rect x="365" y="463" width="18" height="76.6" rx="2.5" ry="2.5" fill="#000"/>
<rect x="366.5" y="464" width="15" height="74.6" rx="2" ry="2" fill="#fff"/>
<use href="#g66" x="370" y="467"/>
<use href="#g65" x="370" y="483"/>
<use href="#g78" x="370" y="497"/>
<use href="#g75" x="370" y="512"/>
<use href="#g49" x="372" y="526"/>
<rect x="589" y="417" width="24" height="112" fill="#000" />
<rect x="590" y="418" width="22" height="110" fill="#fff" />
<rect x="590.8" y="418" width="0.8" height="110" fill="#000" />
<rect x="604.2" y="418" width="0.8" height="110" fill="#000" />
<rect x="593" y="423" width="6" height="7" fill="#000" />
<rect x="594" y="424" width="4" height="5" fill="#fff" />
<rect x="593" y="432" width="6" height="7" fill="#000" />
<rect x="594" y="433" width="4" height="5" fill="#fff" />
<rect x="593" y="442" width="6" height="7" fill="#000" />
<rect x="594" y="443" width="4" height="5" fill="#fff" />
<rect x="593" y="451" width="6" height="7" fill="#000" />
<rect x="594" y="452" width="4" height="5" fill="#fff" />
<rect x="593" y="461" width="6" height="7" fill="#000" />
<rect x="594" y="462" width="4" height="5" fill="#fff" />
<rect x="593" y="470" width="6" height="7" fill="#000" />
<rect x="594" y="471" width="4" height="5" fill="#fff" />
<rect x="593" y="479" width="6" height="7" fill="#000" />
<rect x="594" y="480" width="4" height="5" fill="#fff" />
<rect x="593" y="489" width="6" height="7" fill="#000" />
<rect x="594" y="490" width="4" height="5" fill="#fff" />
<rect x="593" y="498" width="6" height="7" fill="#000" />
<rect x="594" y="499" width="4" height="5" fill="#fff" />
<rect x="593" y="507" width="6" height="7" fill="#000" />
<rect x="594" y="508" width="4" height="5" fill="#fff" />
<rect x="593" y="517" width="6" height="7" fill="#000" />
<rect x="594" y="518" width="4" height="5" fill="#fff" />
<rect x="600.2" y="419.4" width="3" height="6" fill="#000" />
<polygon points="605.6,421 607,419.5 608.8,419.5 610.2,421 610.2,424.2 608.8,425.7 607,425.7 605.6,424.2" fill="#000" />
<rect x="600.2" y="428.77" width="3" height="6" fill="#000" />
<polygon points="605.6,430.37 607,428.87 608.8,428.87 610.2,430.37 610.2,433.57 608.8,435.07 607,435.07 605.6,433.57" fill="#000" />
<rect x="600.2" y="438.14" width="3" height="6" fill="#000" />
<polygon points="605.6,439.74 607,438.24 608.8,438.24 610.2,439.74 610.2,442.94 608.8,444.44 607,444.44 605.6,442.94" fill="#000" />
<rect x="600.2" y="447.51" width="3" height="6" fill="#000" />
<polygon points="605.6,449.11 607,447.61 608.8,447.61 610.2,449.11 610.2,452.31 608.8,453.81 607,453.81 605.6,452.31" fill="#000" />
<rect x="600.2" y="456.88" width="3" height="6" fill="#000" />
<polygon points="605.6,458.48 607,456.98 608.8,456.98 610.2,458.48 610.2,461.68 608.8,463.18 607,463.18 605.6,461.68" fill="#000" />
<rect x="600.2" y="466.25" width="3" height="6" fill="#000" />
<polygon points="605.6,467.85 607,466.35 608.8,466.35 610.2,467.85 610.2,471.05 608.8,472.55 607,472.55 605.6,471.05" fill="#000" />
<rect x="600.2" y="475.62" width="3" height="6" fill="#000" />
<polygon points="605.6,477.22 607,475.72 608.8,475.72 610.2,477.22 610.2,480.42 608.8,481.92 607,481.92 605.6,480.42" fill="#000" />
<rect x="600.2" y="484.99" width="3" height="6" fill="#000" />
<polygon points="605.6,486.59 607,485.09 608.8,485.09 610.2,486.59 610.2,489.79 608.8,491.29 607,491.29 605.6,489.79" fill="#000" />
<rect x="600.2" y="494.36" width="3" height="6" fill="#000" />
<polygon points="605.6,495.96 607,494.46 608.8,494.46 610.2,495.96 610.2,499.16 608.8,500.66 607,500.66 605.6,499.16" fill="#000" />
<rect x="600.2" y="503.73" width="3" height="6" fill="#000" />
<polygon points="605.6,505.33 607,503.83 608.8,503.83 610.2,505.33 610.2,508.53 608.8,510.03 607,510.03 605.6,508.53" fill="#000" />
<rect x="600.2" y="513.1" width="3" height="6" fill="#000" />
<polygon points="605.6,514.7 607,513.2 608.8,513.2 610.2,514.7 610.2,517.9 608.8,519.4 607,519.4 605.6,517.9" fill="#000" />
<rect x="600.2" y="522.47" width="3" height="6" fill="#000" />
<polygon points="605.6,524.07 607,522.57 608.8,522.57 610.2,524.07 610.2,527.27 608.8,528.77 607,528.77 605.6,527.27" fill="#000" />
<rect x="592.4" y="418" width="4.6" height="2.6" fill="#000" />
<rect x="593.4" y="418" width="2.6" height="1.6" fill="#fff" />
<rect x="592.4" y="525.6" width="6.6" height="2.4" fill="#000" />
<rect x="593.4" y="526.6" width="4.6" height="1.4" fill="#fff" />
<path d="M628.2,401 L651.2,401 Q653.2,402.5 652.4,407 Q651.6,411 652.8,415 Q653.8,420 652.4,424 Q651.4,428 652.8,433 Q653.6,438 651.6,441 L629.6,441.4 Q627.4,440 627.8,436 Q628.6,431 627.4,427 Q625.8,421.5 627.4,416.5 Q628.6,412 627.6,408 Q627,403 628.2,401 Z" fill="#fff" stroke="#000" stroke-width="1"/>
<polygon points="625,458.5 646,458.5 646,457 649,457 649,455 652,455 652,452.5 655,452.5 655,503 652,503 652,500.5 649,500.5 649,496.5 625,496.5 625,490 622.5,490 622.5,465.5 625,465.5" fill="#000" />
<rect x="618" y="467.6" width="5" height="8.8" fill="#000" />
<rect x="619" y="468.6" width="3.4" height="6.8" fill="#fff" />
<rect x="618" y="479" width="5" height="8.8" fill="#000" />
<rect x="619" y="480" width="3.4" height="6.8" fill="#fff" />
<rect x="623.2" y="475.2" width="1.6" height="3.8" fill="#fff" />
<rect x="83" y="37" width="7" height="14" fill="#000" />
<rect x="84" y="39" width="5" height="1" fill="#fff" />
<rect x="84" y="44" width="5" height="1" fill="#fff" />
<rect x="84" y="49" width="5" height="1" fill="#fff" />
<rect x="65" y="48" width="12" height="31" fill="#000" />
<rect x="71.4" y="49" width="1" height="29" fill="#fff" />
<rect x="66" y="54" width="4" height="1" fill="#fff" />
<rect x="72.4" y="54" width="3.6" height="1" fill="#fff" />
<rect x="66" y="60" width="4" height="1" fill="#fff" />
<rect x="72.4" y="60" width="3.6" height="1" fill="#fff" />
<rect x="66" y="66" width="4" height="1" fill="#fff" />
<rect x="72.4" y="66" width="3.6" height="1" fill="#fff" />
<rect x="66" y="72" width="4" height="1" fill="#fff" />
<rect x="72.4" y="72" width="3.6" height="1" fill="#fff" />
<rect x="66" y="77" width="4" height="1" fill="#fff" />
<rect x="72.4" y="77" width="3.6" height="1" fill="#fff" />
<rect x="72.6" y="49.3" width="3.1" height="3.7" fill="#fff" />
<rect x="73.7" y="50.4" width="1" height="1.4" fill="#000" />
<rect x="89" y="59.4" width="6.6" height="18.2" fill="#000" />
<rect x="90.2" y="61" width="4.2" height="4" fill="#fff" />
<rect x="91.6" y="62.4" width="1.4" height="1.4" fill="#000" />
<rect x="90.2" y="67" width="4.2" height="1" fill="#fff" />
<rect x="90.2" y="72" width="4.2" height="1" fill="#fff" />
<rect x="116.5" y="104" width="19" height="13.4" fill="#000" />
<rect x="117.5" y="105" width="17" height="11.4" fill="#fff" />
<rect x="118.3" y="105.8" width="3.9" height="4.2" fill="#000" />
<rect x="118.3" y="111.3" width="3.9" height="4.3" fill="#000" />
<rect x="123.6" y="105.8" width="4.4" height="4.2" fill="#000" />
<rect x="123.6" y="111.3" width="4.4" height="4.3" fill="#000" />
<rect x="129.4" y="105.8" width="4.3" height="4.2" fill="#000" />
<rect x="129.4" y="111.3" width="4.3" height="4.3" fill="#000" />
<rect x="119.3" y="112.3" width="1.9" height="2.3" fill="#fff" />
<rect x="159" y="107" width="14" height="7" fill="#000" />
<rect x="160.2" y="109" width="11.6" height="4" fill="#fff" />
<rect x="163.5" y="109" width="1" height="4" fill="#000" />
<rect x="167.2" y="109" width="1" height="4" fill="#000" />
<rect x="60" y="137" width="12.6" height="25" fill="#000" />
<rect x="65" y="138" width="1" height="23" fill="#fff" />
<rect x="61" y="143" width="11" height="1" fill="#fff" />
<rect x="61" y="150" width="11" height="1" fill="#fff" />
<rect x="61" y="155" width="11" height="1" fill="#fff" />
<rect x="67.4" y="139" width="3.2" height="3.2" fill="#fff" />
<rect x="68.5" y="140" width="1" height="1.2" fill="#000" />
<rect x="61" y="138" width="11" height="1" fill="#fff" />
<rect x="71" y="138" width="1" height="23" fill="#fff" />
<rect x="77" y="137" width="7" height="25" fill="#000" />
<rect x="78.2" y="138.4" width="4.4" height="4.6" fill="#fff" />
<rect x="79.6" y="139.6" width="1.6" height="2" fill="#000" />
<rect x="78" y="148" width="5" height="1" fill="#fff" />
<rect x="78" y="154" width="5" height="1" fill="#fff" />
<rect x="78" y="159" width="5" height="1" fill="#fff" />
<rect x="82" y="138" width="1" height="23" fill="#fff" />
<rect x="88.4" y="191.8" width="5.8" height="18.6" fill="#000" />
<rect x="89.6" y="193.6" width="3.4" height="3.8" fill="#fff" />
<rect x="90.7" y="194.8" width="1.2" height="1.4" fill="#000" />
<rect x="89.6" y="199.8" width="3.4" height="2.2" fill="#fff" />
<rect x="89.6" y="205.2" width="3.4" height="1.8" fill="#fff" />
<rect x="78" y="191.8" width="6" height="18.6" fill="#000" />
<rect x="80" y="194" width="3" height="3" fill="#fff" />
<rect x="81" y="195" width="1" height="1" fill="#000" />
<rect x="79.2" y="199.8" width="3.6" height="2.2" fill="#fff" />
<rect x="79.2" y="205.2" width="3.6" height="1.8" fill="#fff" />
<rect x="100.4" y="315.4" width="18.4" height="7.1" fill="#000" />
<rect x="101.4" y="316.4" width="16.4" height="5.1" fill="#fff" />
<rect x="101.9" y="317.1" width="4.3" height="3.7" fill="#000" />
<rect x="102.8" y="318" width="2.5" height="1.9" fill="#fff" />
<rect x="107" y="317.1" width="4.2" height="3.7" fill="#000" />
<rect x="107.9" y="318" width="2.4" height="1.9" fill="#fff" />
<rect x="112" y="317.1" width="5.8" height="4.4" fill="#000" />
<rect x="59.5" y="354.4" width="6.3" height="20.2" fill="#000" />
<rect x="60.6" y="356" width="4.1" height="3.4" fill="#fff" />
<rect x="60.6" y="361.4" width="4.1" height="4" fill="#fff" />
<rect x="60.6" y="367.4" width="4.1" height="2" fill="#fff" />
<rect x="60.6" y="371" width="4.1" height="2.4" fill="#fff" />
<rect x="62" y="368" width="1.4" height="1" fill="#000" />
<rect x="300" y="331.8" width="19" height="13" fill="#000" />
<rect x="301" y="332.8" width="17" height="11" fill="#fff" />
<rect x="302" y="332.8" width="4.8" height="4.6" fill="#000" />
<rect x="302" y="338.8" width="4.8" height="3.8" fill="#000" />
<rect x="308" y="332.8" width="4.6" height="4.6" fill="#000" />
<rect x="308" y="338.8" width="4.6" height="3.8" fill="#000" />
<rect x="313.8" y="332.8" width="4.2" height="4.6" fill="#000" />
<rect x="313.8" y="338.8" width="4.2" height="3.8" fill="#000" />
<rect x="303" y="339.6" width="2.8" height="2.4" fill="#fff" />
<rect x="303.9" y="340.3" width="1" height="1" fill="#000" />
<rect x="273" y="355" width="19" height="17.5" fill="#000" />
<rect x="279.2" y="356" width="0.9" height="15.5" fill="#fff" />
<rect x="284.8" y="356" width="0.9" height="15.5" fill="#fff" />
<rect x="274" y="361" width="11" height="0.9" fill="#fff" />
<rect x="287" y="356.8" width="3.2" height="2" fill="#fff" />
<rect x="287" y="361.8" width="3.2" height="3.2" fill="#fff" />
<rect x="287" y="368" width="3.2" height="2.6" fill="#fff" />
<rect x="534.8" y="403.7" width="7.5" height="14.3" fill="#000" />
<rect x="536" y="405" width="5.2" height="11.8" fill="#fff" />
<rect x="536.6" y="405.6" width="1.1" height="10.6" fill="#000" />
<rect x="537" y="405.6" width="3.6" height="1" fill="#000" />
<rect x="537" y="410.6" width="3.6" height="1" fill="#000" />
<rect x="537" y="415.2" width="3.6" height="1" fill="#000" />
<rect x="628" y="362.3" width="26" height="6.5" fill="#000" />
<rect x="629.4" y="363.3" width="1.3" height="4.5" fill="#fff" />
<rect x="635" y="363.3" width="1.3" height="4.5" fill="#fff" />
<rect x="640.7" y="363.3" width="1.3" height="4.5" fill="#fff" />
<rect x="646.6" y="363.3" width="6" height="4.5" fill="#fff" />
<rect x="648" y="363.3" width="1" height="4.5" fill="#000" />
<rect x="649.8" y="364.6" width="1.6" height="2" fill="#000" />
<rect x="629" y="185" width="14" height="6" fill="#000" />
<rect x="630" y="186" width="1.2" height="4" fill="#fff" />
<rect x="635" y="186" width="1.2" height="4" fill="#fff" />
<rect x="641" y="186" width="1.2" height="4" fill="#fff" />
<use href="#gs4" x="635" y="199"/>
<rect x="636.3" y="208" width="5.7" height="5.5" fill="#000" />
<rect x="629" y="213" width="19" height="7" fill="#000" />
<rect x="630" y="214.4" width="6" height="4.4" fill="#fff" />
<rect x="631.4" y="215.4" width="3.6" height="2.6" fill="#000" />
<rect x="632.4" y="216.2" width="1.6" height="1" fill="#fff" />
<rect x="641.6" y="214.4" width="5" height="4.4" fill="#fff" />
<rect x="643.4" y="214.4" width="1" height="4.4" fill="#000" />
<polygon points="83.6,19.8 83.6,21 85.65,29.1 85.65,37.2 88.55,37.2 88.55,29.1 91.2,21 91.2,19.8" fill="#000" />
<rect x="75" y="3" width="26" height="18" rx="3.8" ry="3.8" fill="#000"/>
<rect x="77" y="5" width="22" height="14" rx="2.2" ry="2.2" fill="#fff"/>
<use href="#g74" x="81" y="7"/>
<use href="#g52" x="87" y="7"/>
<polygon points="47.8,50 49,50 60.48,53 65.4,53 65.4,55 60.48,55 49,56.2 47.8,56.2" fill="#000" />
<rect x="8" y="44" width="41" height="19" rx="3.8" ry="3.8" fill="#000"/>
<rect x="10" y="47" width="37" height="14" rx="2.2" ry="2.2" fill="#fff"/>
<use href="#g74" x="13" y="49"/>
<use href="#g77" x="21" y="49"/>
<use href="#g80" x="32" y="49"/>
<use href="#g53" x="40" y="49"/>
<polygon points="48.8,69.4 50,69.4 62.32,71 65.4,71 65.4,73 62.32,73 50,75 48.8,75" fill="#000" />
<rect x="25" y="63" width="25" height="18" rx="3.8" ry="3.8" fill="#000"/>
<rect x="27" y="65" width="21" height="14" rx="2.2" ry="2.2" fill="#fff"/>
<use href="#g74" x="29" y="67"/>
<use href="#g54" x="36" y="67"/>
<polygon points="70.8,96.2 70.8,95 73,87.62 73,78.6 75,78.6 75,87.62 77,95 77,96.2" fill="#000" />
<rect x="61" y="95" width="25" height="18" rx="3.8" ry="3.8" fill="#000"/>
<rect x="63" y="97" width="21" height="14" rx="2.2" ry="2.2" fill="#fff"/>
<use href="#g74" x="66" y="99"/>
<use href="#g50" x="73" y="99"/>
<polygon points="112.2,62.4 111,62.4 101.64,67 95.4,67 95.4,69 101.64,69 111,72.6 112.2,72.6" fill="#000" />
<rect x="111" y="59" width="48" height="19" rx="3.8" ry="3.8" fill="#000"/>
<rect x="113" y="62" width="44" height="14" rx="2.2" ry="2.2" fill="#fff"/>
<use href="#g74" x="115" y="64"/>
<use href="#g77" x="123" y="64"/>
<use href="#g80" x="133" y="64"/>
<use href="#g49" x="142" y="64"/>
<use href="#g52" x="148" y="64"/>
<polygon points="90,116.8 116.8,108.6 116.8,111.2 91,119.6" fill="#000" />
<rect x="50" y="114" width="42" height="18" rx="3.8" ry="3.8" fill="#000"/>
<rect x="52" y="116" width="38" height="14" rx="2.2" ry="2.2" fill="#fff"/>
<use href="#g74" x="54" y="118"/>
<use href="#g77" x="62" y="118"/>
<use href="#g80" x="73" y="118"/>
<use href="#g54" x="81" y="118"/>
<polygon points="92,133.5 95,136.5 85.6,146 83.6,144.4" fill="#000" />
<rect x="92" y="119" width="41" height="18" fill="#000" />
<rect x="94" y="121" width="37" height="14" fill="#fff" />
<use href="#g74" x="97" y="123"/>
<use href="#g49" x="105" y="123"/>
<use href="#g48" x="112" y="123"/>
<use href="#g48" x="119" y="123"/>
<polygon points="43.4,145.4 44.6,145.4 51.71,148 60.4,148 60.4,150.4 51.71,150.4 44.6,152.4 43.4,152.4" fill="#000" />
<rect x="3" y="140" width="41" height="19" rx="3.8" ry="3.8" fill="#000"/>
<rect x="5" y="143" width="37" height="14" rx="2.2" ry="2.2" fill="#fff"/>
<use href="#g74" x="8" y="145"/>
<use href="#g77" x="15" y="145"/>
<use href="#g80" x="26" y="145"/>
<use href="#g57" x="34" y="145"/>
<polygon points="88.8,180.8 88.8,182 90.4,189 90.4,192 93.2,192 93.2,189 95,182 95,180.8" fill="#000" />
<rect x="70" y="164" width="43" height="18" rx="3.8" ry="3.8" fill="#000"/>
<rect x="72" y="166" width="39" height="14" rx="2.2" ry="2.2" fill="#fff"/>
<use href="#g74" x="74" y="168"/>
<use href="#g77" x="82" y="168"/>
<use href="#g80" x="93" y="168"/>
<use href="#g52" x="100" y="168"/>
<polygon points="61.8,198 63,198 70.6,201 78.2,201 78.2,203 70.6,203 63,204.6 61.8,204.6" fill="#000" />
<rect x="22" y="193" width="41" height="18" rx="3.8" ry="3.8" fill="#000"/>
<rect x="24" y="195" width="37" height="14" rx="2.2" ry="2.2" fill="#fff"/>
<use href="#g74" x="26" y="197"/>
<use href="#g77" x="33" y="197"/>
<use href="#g80" x="45" y="197"/>
<use href="#g50" x="52" y="197"/>
<polygon points="88.5,311.5 93,308 102,316.8 101,320.5 99,320.8" fill="#000" />
<rect x="42" y="294" width="50" height="18" rx="3.8" ry="3.8" fill="#000"/>
<rect x="44" y="296" width="46" height="14" rx="2.2" ry="2.2" fill="#fff"/>
<use href="#g74" x="46" y="298"/>
<use href="#g77" x="54" y="298"/>
<use href="#g80" x="65" y="298"/>
<use href="#g49" x="74" y="298"/>
<use href="#g53" x="80" y="298"/>
<polygon points="90.2,311.2 92.6,309.8 99.4,316.6 98.8,318.2" fill="#fff" />
<polygon points="59.6,336.8 59.6,338 62,345.56 62,354.8 64,354.8 64,345.56 65.8,338 65.8,336.8" fill="#000" />
<rect x="40" y="320" width="47" height="18" rx="3.8" ry="3.8" fill="#000"/>
<rect x="42" y="322" width="43" height="14" rx="2.2" ry="2.2" fill="#fff"/>
<use href="#g74" x="43" y="324"/>
<use href="#g77" x="50" y="324"/>
<use href="#g80" x="61" y="324"/>
<use href="#g49" x="70" y="324"/>
<use href="#g51" x="76" y="324"/>
<polygon points="279.6,329.2 279.6,330.4 282,349.15 282,355.4 284,355.4 284,349.15 286.6,330.4 286.6,329.2" fill="#000" />
<rect x="260" y="312" width="47" height="18" rx="3.8" ry="3.8" fill="#000"/>
<rect x="262" y="314" width="43" height="14" rx="2.2" ry="2.2" fill="#fff"/>
<use href="#g74" x="263" y="316"/>
<use href="#g77" x="271" y="316"/>
<use href="#g80" x="281" y="316"/>
<use href="#g49" x="290" y="316"/>
<use href="#g65" x="296" y="316"/>
<polygon points="336,333.6 334.8,333.6 327.6,337 318.8,337 318.8,339 327.6,339 334.8,342.2 336,342.2" fill="#000" />
<rect x="335" y="329" width="41" height="19" rx="3.8" ry="3.8" fill="#000"/>
<rect x="337" y="331" width="37" height="14" rx="2.2" ry="2.2" fill="#fff"/>
<use href="#g74" x="339" y="333"/>
<use href="#g77" x="347" y="333"/>
<use href="#g80" x="357" y="333"/>
<use href="#g56" x="365" y="333"/>
<polygon points="308.2,358.4 307,358.4 299.4,362 291.8,362 291.8,364 299.4,364 307,367.4 308.2,367.4" fill="#000" />
<rect x="307" y="355" width="48" height="18" rx="3.8" ry="3.8" fill="#000"/>
<rect x="309" y="357" width="44" height="14" rx="2.2" ry="2.2" fill="#fff"/>
<use href="#g74" x="312" y="359"/>
<use href="#g77" x="319" y="359"/>
<use href="#g80" x="330" y="359"/>
<use href="#g49" x="338" y="359"/>
<use href="#g66" x="346" y="359"/>
<polygon points="278.2,392.2 278.2,391 281.3,381.6 281.3,372.2 284.3,372.2 284.3,381.6 286.4,391 286.4,392.2" fill="#000" />
<rect x="259" y="391" width="46" height="18" rx="3.8" ry="3.8" fill="#000"/>
<rect x="261" y="393" width="42" height="14" rx="2.2" ry="2.2" fill="#fff"/>
<use href="#g74" x="262" y="395"/>
<use href="#g77" x="269" y="395"/>
<use href="#g80" x="280" y="395"/>
<use href="#g49" x="289" y="395"/>
<use href="#g67" x="295" y="395"/>
<polygon points="639.2,344.2 639.2,345.4 641.65,354 641.65,362.6 644.55,362.6 644.55,354 647.2,345.4 647.2,344.2" fill="#000" />
<rect x="631" y="327" width="26" height="18" rx="3.8" ry="3.8" fill="#000"/>
<rect x="633" y="329" width="22" height="14" rx="2.2" ry="2.2" fill="#fff"/>
<use href="#g74" x="637" y="331"/>
<use href="#g55" x="644" y="331"/>
<polygon points="631.6,166.4 631.6,167.6 634,178.64 634,185.4 637,185.4 637,178.64 639.2,167.6 639.2,166.4" fill="#000" />
<rect x="614" y="149" width="44" height="18" rx="3.8" ry="3.8" fill="#000"/>
<rect x="616" y="151" width="40" height="14" rx="2.2" ry="2.2" fill="#fff"/>
<use href="#g74" x="620" y="153"/>
<use href="#g77" x="628" y="153"/>
<use href="#g80" x="638" y="153"/>
<use href="#g55" x="646" y="153"/>
<polygon points="635.2,240 635.2,238.8 637.25,234 637.25,219.6 640.45,219.6 640.45,234 643,238.8 643,240" fill="#000" />
<rect x="617" y="239" width="43" height="18" rx="3.8" ry="3.8" fill="#000"/>
<rect x="619" y="241" width="39" height="14" rx="2.2" ry="2.2" fill="#fff"/>
<use href="#g74" x="622" y="243"/>
<use href="#g77" x="631" y="243"/>
<use href="#g80" x="641" y="243"/>
<use href="#g51" x="649" y="243"/>
<rect x="87" y="22" width="1" height="5.804" fill="#fff" />
<rect x="50" y="53" width="5.888" height="1" fill="#fff" />
<rect x="51" y="71" width="5.468" height="1" fill="#fff" />
<rect x="73" y="88.112" width="1" height="5.888" fill="#fff" />
<rect x="104.448" y="67" width="5.552" height="1" fill="#fff" />
<rect x="45.6" y="148" width="5.636" height="1" fill="#fff" />
<rect x="64" y="201" width="5.384" height="1" fill="#fff" />
<rect x="62" y="339" width="1" height="6.056" fill="#fff" />
<rect x="282" y="331.4" width="1" height="11.5" fill="#fff" />
<rect x="328.08" y="337" width="5.72" height="1" fill="#fff" />
<rect x="300.616" y="362" width="5.384" height="1" fill="#fff" />
<rect x="282" y="385.36" width="1" height="4.64" fill="#fff" />
<rect x="643" y="346.4" width="1" height="6.224" fill="#fff" />
<rect x="635" y="168.6" width="1" height="7.9" fill="#fff" />
<rect x="638" y="234.96" width="1" height="2.84" fill="#fff" />
</svg>
</body></html>
